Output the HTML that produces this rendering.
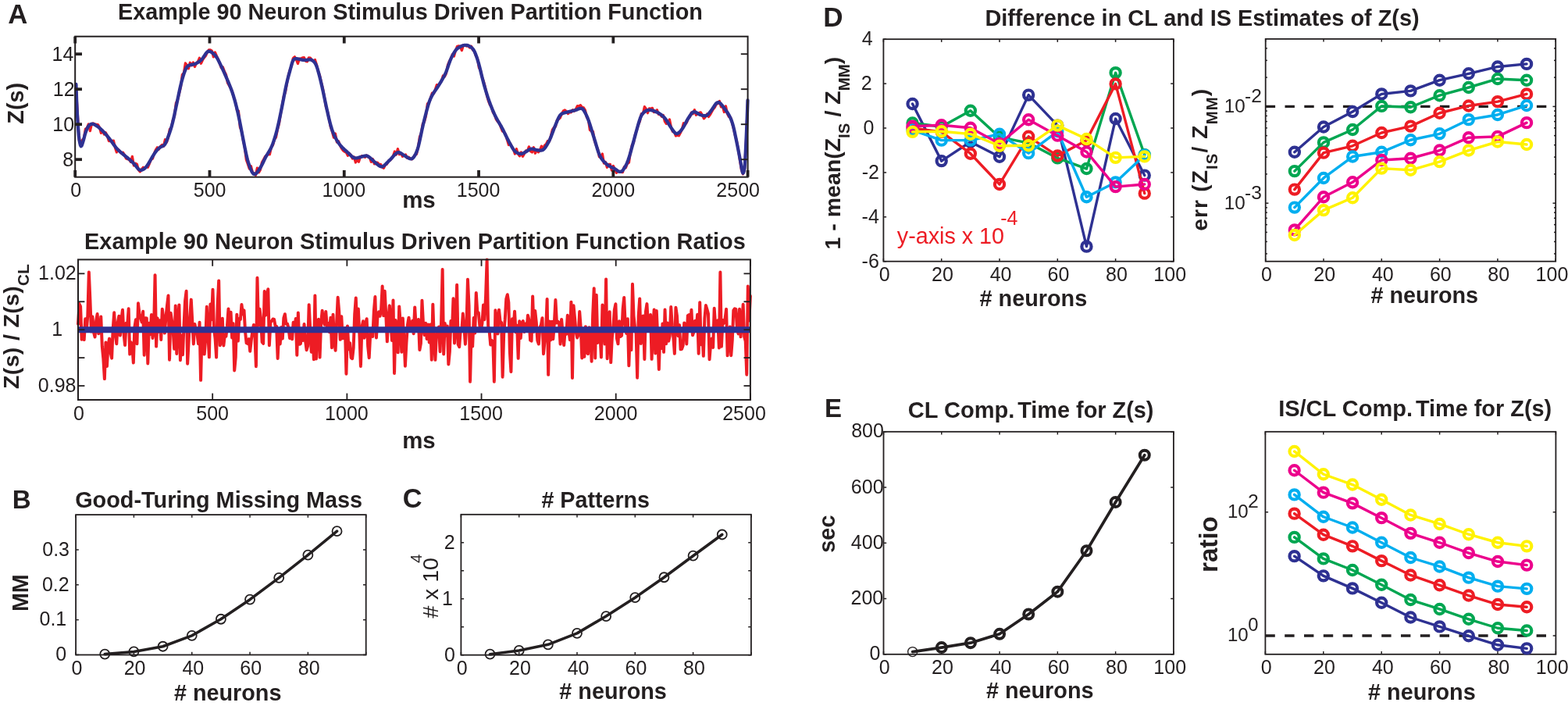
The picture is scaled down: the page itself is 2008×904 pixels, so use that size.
<!DOCTYPE html>
<html><head><meta charset="utf-8"><title>Partition function figure</title>
<style>
html,body{margin:0;padding:0;background:#fff;}
svg{display:block;}
text{font-family:"Liberation Sans",Arial,Helvetica,sans-serif;}
</style></head><body>
<svg width="2008" height="904" viewBox="0 0 2008 904">
<rect x="0" y="0" width="2008" height="904" fill="#fff"/>
<polyline points="97.4,113.1 99.4,147.6 101.4,179.42 103.4,186.05 105.4,179.39 107.4,177.21 109.4,165.16 111.4,163.98 113.4,158.94 115.4,167.64 117.4,158.98 119.4,157.82 121.4,158.95 123.4,159.27 125.4,159.62 127.4,162.8 129.4,170.33 131.4,166.97 133.4,172.05 135.4,169.86 137.4,174.23 139.4,180.53 141.4,180.59 143.4,180.62 145.4,180.14 147.4,188.92 149.4,194.91 151.4,191.45 153.4,193.34 155.4,196.33 157.4,195.12 159.4,198.26 161.4,202.87 163.4,203.64 165.4,204.1 167.4,207.33 169.4,200.42 171.4,211.96 173.4,209.25 175.4,210.27 177.4,217.6 179.4,219.84 181.4,216.68 183.4,214.23 185.4,215.79 187.4,213.41 189.4,214.2 191.4,209.33 193.4,204.26 195.4,203.14 197.4,196.64 199.4,191.89 201.4,188.82 203.4,191.19 205.4,187.73 207.4,185.53 209.4,187.31 211.4,178.79 213.4,182.11 215.4,176.19 217.4,165.39 219.4,163.46 221.4,153.59 223.4,148.82 225.4,131.97 227.4,128.06 229.4,119.91 231.4,111.72 233.4,95.59 235.4,93.5 237.4,80.9 239.4,83.58 241.4,87.77 243.4,80.26 245.4,83.77 247.4,79.91 249.4,85.48 251.4,81.04 253.4,79.03 255.4,74.32 257.4,81.28 259.4,76.95 261.4,73.85 263.4,71.5 265.4,67.02 267.4,63.82 269.4,63.96 271.4,65.14 273.4,72.78 275.4,66.96 277.4,71.58 279.4,75.91 281.4,81.37 283.4,86.82 285.4,85.97 287.4,91.38 289.4,95.39 291.4,105.81 293.4,109.33 295.4,112.92 297.4,117.04 299.4,124.77 301.4,130.29 303.4,141.03 305.4,141.95 307.4,162.79 309.4,167.8 311.4,179.53 313.4,188.97 315.4,204.81 317.4,210.31 319.4,216.13 321.4,212.64 323.4,220.95 325.4,222.06 327.4,224.21 329.4,215.06 331.4,220.79 333.4,217.47 335.4,207.99 337.4,204.49 339.4,200.66 341.4,199.16 343.4,197.49 345.4,197.77 347.4,188.36 349.4,185.95 351.4,178.58 353.4,175.92 355.4,165.85 357.4,158.4 359.4,145.6 361.4,134.87 363.4,122.97 365.4,118.29 367.4,106.69 369.4,96.53 371.4,89.23 373.4,84.11 375.4,74.41 377.4,72.79 379.4,76.25 381.4,81.5 383.4,75.19 385.4,74.93 387.4,73.82 389.4,73.65 391.4,78.26 393.4,78.86 395.4,73.89 397.4,74.13 399.4,77.02 401.4,78.57 403.4,76.54 405.4,82.75 407.4,91.03 409.4,96.33 411.4,105.28 413.4,113.33 415.4,124.21 417.4,136.78 419.4,142.55 421.4,152.08 423.4,162.64 425.4,168.52 427.4,176.1 429.4,170.93 431.4,181.98 433.4,180.68 435.4,185.94 437.4,189.99 439.4,192.63 441.4,194.36 443.4,195.31 445.4,199.28 447.4,196.52 449.4,198.91 451.4,203.05 453.4,200.88 455.4,207.99 457.4,204.84 459.4,207.17 461.4,201.08 463.4,199.67 465.4,200.44 467.4,201.35 469.4,198.99 471.4,200.97 473.4,201.59 475.4,207.36 477.4,203.59 479.4,209.86 481.4,208.24 483.4,208.19 485.4,210.38 487.4,210.31 489.4,214.06 491.4,215.27 493.4,211.06 495.4,210.2 497.4,206.14 499.4,205.34 501.4,203.18 503.4,199.71 505.4,194.06 507.4,198.06 509.4,190.64 511.4,197.78 513.4,196.03 515.4,200.35 517.4,198.78 519.4,198.06 521.4,202.32 523.4,201.24 525.4,203.03 527.4,203.73 529.4,201.69 531.4,198.46 533.4,197.4 535.4,188.92 537.4,175.48 539.4,170.58 541.4,158.45 543.4,156.2 545.4,148.62 547.4,132.93 549.4,131.44 551.4,125.54 553.4,119.31 555.4,120 557.4,114.64 559.4,108.61 561.4,109.4 563.4,106.4 565.4,103.76 567.4,97.02 569.4,97.91 571.4,93.9 573.4,83.47 575.4,78.54 577.4,74.96 579.4,69.65 581.4,71.93 583.4,64.88 585.4,59.64 587.4,58.91 589.4,59.6 591.4,64.55 593.4,57.69 595.4,58.08 597.4,59.04 599.4,58.16 601.4,60.91 603.4,59.19 605.4,63.96 607.4,65.48 609.4,71.54 611.4,74.4 613.4,86.76 615.4,90.24 617.4,99.2 619.4,104.4 621.4,111.99 623.4,121.92 625.4,129.05 627.4,134.04 629.4,136.98 631.4,144.02 633.4,146.79 635.4,152.86 637.4,155.83 639.4,157.43 641.4,162.85 643.4,167.87 645.4,169.23 647.4,171.92 649.4,178.72 651.4,185.48 653.4,183.76 655.4,187.74 657.4,191 659.4,196.95 661.4,190.67 663.4,197.12 665.4,199.85 667.4,195.07 669.4,200.33 671.4,196.86 673.4,192.95 675.4,193.66 677.4,187.88 679.4,193.59 681.4,195.02 683.4,188.72 685.4,196.23 687.4,191.85 689.4,194.83 691.4,192.68 693.4,187.09 695.4,190.77 697.4,186.17 699.4,184.39 701.4,180.47 703.4,181.25 705.4,174.18 707.4,166.22 709.4,163.25 711.4,162.1 713.4,153.98 715.4,152.69 717.4,150.71 719.4,145.68 721.4,141.99 723.4,140.99 725.4,142.46 727.4,145.56 729.4,143.55 731.4,143.74 733.4,140.79 735.4,142.17 737.4,139.7 739.4,135.68 741.4,136.05 743.4,134.72 745.4,137.43 747.4,137.91 749.4,141.03 751.4,150.08 753.4,152.88 755.4,166.39 757.4,167.98 759.4,168.29 761.4,180.43 763.4,186.26 765.4,190.47 767.4,200.77 769.4,200.02 771.4,197.05 773.4,209 775.4,207.42 777.4,214.34 779.4,210.45 781.4,210.36 783.4,218.18 785.4,212.53 787.4,216.73 789.4,221.24 791.4,219.35 793.4,219.9 795.4,220.39 797.4,220.6 799.4,213.59 801.4,214.65 803.4,209.5 805.4,208.22 807.4,194.65 809.4,185.8 811.4,182.74 813.4,172.45 815.4,166.75 817.4,159.5 819.4,155.21 821.4,145.56 823.4,145.79 825.4,136.72 827.4,139.52 829.4,144.76 831.4,139 833.4,139.17 835.4,138.36 837.4,143.53 839.4,143.32 841.4,140.77 843.4,146.35 845.4,146.57 847.4,149.31 849.4,147.56 851.4,155.48 853.4,158.46 855.4,156.8 857.4,152.88 859.4,162.89 861.4,168.51 863.4,168.64 865.4,174 867.4,172.85 869.4,173.85 871.4,169.97 873.4,165.47 875.4,157.79 877.4,159.5 879.4,156.78 881.4,151.74 883.4,149.74 885.4,144.15 887.4,145.73 889.4,140.65 891.4,147.27 893.4,145.58 895.4,144.37 897.4,143.99 899.4,147.41 901.4,151.79 903.4,149.54 905.4,146.08 907.4,149.46 909.4,146.83 911.4,143.27 913.4,139.72 915.4,137.36 917.4,133.2 919.4,132.64 921.4,129.41 923.4,136.92 925.4,136.25 927.4,143.47 929.4,135.92 931.4,145.57 933.4,149.46 935.4,149.98 937.4,156.66 939.4,164.51 941.4,173.42 943.4,180.54 945.4,191.32 947.4,204.5 949.4,216.93 951.4,222.82 953.4,218.19 955.4,182.61 957.4,134.06" fill="none" stroke="#ed1c24" stroke-width="3.3" stroke-linejoin="round" stroke-linecap="round"/>
<polyline points="97.4,108 98.1,127.91 98.8,143.26 99.5,155.58 100.2,165.48 100.9,174.02 101.6,179.51 102.3,183.13 103,185.91 103.7,187.24 104.4,186.85 105.1,185.28 105.8,183.11 106.5,180.81 107.2,178.35 107.9,175.69 108.6,173.07 109.3,170.65 110,168.53 110.7,166.65 111.4,165.01 112.1,163.58 112.8,162.38 113.5,161.39 114.2,160.59 114.9,159.94 115.6,159.43 116.3,159.05 117,158.8 117.7,158.67 118.4,158.68 119.1,158.79 119.8,159 120.5,159.28 121.2,159.63 121.9,160.02 122.6,160.44 123.3,160.89 124,161.35 124.7,161.82 125.4,162.31 126.1,162.82 126.8,163.36 127.5,163.93 128.2,164.53 128.9,165.16 129.6,165.81 130.3,166.49 131,167.19 131.7,167.9 132.4,168.62 133.1,169.35 133.8,170.1 134.5,170.86 135.2,171.63 135.9,172.43 136.6,173.25 137.3,174.08 138,174.93 138.7,175.8 139.4,176.68 140.1,177.57 140.8,178.47 141.5,179.38 142.2,180.3 142.9,181.25 143.6,182.21 144.3,183.18 145,184.17 145.7,185.16 146.4,186.13 147.1,187.09 147.8,188.01 148.5,188.89 149.2,189.73 149.9,190.52 150.6,191.26 151.3,191.97 152,192.64 152.7,193.29 153.4,193.92 154.1,194.53 154.8,195.13 155.5,195.73 156.2,196.32 156.9,196.91 157.6,197.49 158.3,198.07 159,198.65 159.7,199.22 160.4,199.78 161.1,200.34 161.8,200.9 162.5,201.47 163.2,202.04 163.9,202.62 164.6,203.21 165.3,203.81 166,204.42 166.7,205.04 167.4,205.67 168.1,206.3 168.8,206.95 169.5,207.61 170.2,208.28 170.9,208.97 171.6,209.69 172.3,210.46 173,211.28 173.7,212.15 174.4,213.06 175.1,213.97 175.8,214.86 176.5,215.69 177.2,216.42 177.9,217.01 178.6,217.44 179.3,217.7 180,217.81 180.7,217.78 181.4,217.64 182.1,217.42 182.8,217.12 183.5,216.77 184.2,216.36 184.9,215.88 185.6,215.31 186.3,214.64 187,213.86 187.7,213 188.4,212.05 189.1,211.05 189.8,209.99 190.5,208.87 191.2,207.7 191.9,206.49 192.6,205.25 193.3,204.01 194,202.78 194.7,201.58 195.4,200.41 196.1,199.26 196.8,198.15 197.5,197.07 198.2,196.02 198.9,195.02 199.6,194.07 200.3,193.17 201,192.34 201.7,191.55 202.4,190.82 203.1,190.15 203.8,189.54 204.5,189.01 205.2,188.55 205.9,188.16 206.6,187.83 207.3,187.53 208,187.24 208.7,186.91 209.4,186.5 210.1,185.94 210.8,185.18 211.5,184.17 212.2,182.89 212.9,181.37 213.6,179.68 214.3,177.87 215,176.01 215.7,174.11 216.4,172.18 217.1,170.19 217.8,168.13 218.5,165.98 219.2,163.71 219.9,161.3 220.6,158.73 221.3,155.99 222,153.06 222.7,149.97 223.4,146.74 224.1,143.41 224.8,140.03 225.5,136.65 226.2,133.29 226.9,129.95 227.6,126.65 228.3,123.35 229,120.06 229.7,116.79 230.4,113.58 231.1,110.47 231.8,107.5 232.5,104.7 233.2,102.1 233.9,99.66 234.6,97.37 235.3,95.2 236,93.15 236.7,91.23 237.4,89.47 238.1,87.92 238.8,86.63 239.5,85.6 240.2,84.82 240.9,84.27 241.6,83.88 242.3,83.6 243,83.39 243.7,83.22 244.4,83.08 245.1,82.94 245.8,82.81 246.5,82.67 247.2,82.52 247.9,82.35 248.6,82.16 249.3,81.93 250,81.66 250.7,81.36 251.4,81.03 252.1,80.67 252.8,80.27 253.5,79.85 254.2,79.4 254.9,78.92 255.6,78.42 256.3,77.89 257,77.32 257.7,76.69 258.4,75.99 259.1,75.19 259.8,74.29 260.5,73.29 261.2,72.23 261.9,71.13 262.6,70.04 263.3,69 264,68.04 264.7,67.22 265.4,66.57 266.1,66.1 266.8,65.82 267.5,65.72 268.2,65.77 268.9,65.94 269.6,66.21 270.3,66.56 271,66.98 271.7,67.46 272.4,67.99 273.1,68.56 273.8,69.18 274.5,69.83 275.2,70.54 275.9,71.32 276.6,72.2 277.3,73.19 278,74.3 278.7,75.52 279.4,76.83 280.1,78.19 280.8,79.58 281.5,80.99 282.2,82.41 282.9,83.84 283.6,85.3 284.3,86.77 285,88.28 285.7,89.81 286.4,91.36 287.1,92.93 287.8,94.52 288.5,96.12 289.2,97.73 289.9,99.34 290.6,100.95 291.3,102.56 292,104.19 292.7,105.83 293.4,107.5 294.1,109.21 294.8,110.96 295.5,112.77 296.2,114.64 296.9,116.58 297.6,118.6 298.3,120.72 299,122.94 299.7,125.26 300.4,127.68 301.1,130.21 301.8,132.83 302.5,135.54 303.2,138.35 303.9,141.26 304.6,144.28 305.3,147.44 306,150.73 306.7,154.14 307.4,157.67 308.1,161.26 308.8,164.88 309.5,168.5 310.2,172.1 310.9,175.67 311.6,179.23 312.3,182.78 313,186.33 313.7,189.85 314.4,193.3 315.1,196.62 315.8,199.75 316.5,202.64 317.2,205.29 317.9,207.69 318.6,209.9 319.3,211.96 320,213.9 320.7,215.72 321.4,217.42 322.1,218.96 322.8,220.29 323.5,221.39 324.2,222.22 324.9,222.77 325.6,223.02 326.3,223.01 327,222.76 327.7,222.3 328.4,221.68 329.1,220.92 329.8,220.05 330.5,219.11 331.2,218.1 331.9,217.05 332.6,215.97 333.3,214.84 334,213.66 334.7,212.41 335.4,211.08 336.1,209.67 336.8,208.22 337.5,206.73 338.2,205.26 338.9,203.82 339.6,202.43 340.3,201.11 341,199.85 341.7,198.65 342.4,197.49 343.1,196.36 343.8,195.22 344.5,194.07 345.2,192.87 345.9,191.61 346.6,190.26 347.3,188.82 348,187.26 348.7,185.59 349.4,183.79 350.1,181.86 350.8,179.82 351.5,177.68 352.2,175.42 352.9,173.07 353.6,170.6 354.3,168 355,165.27 355.7,162.38 356.4,159.35 357.1,156.17 357.8,152.89 358.5,149.53 359.2,146.12 359.9,142.68 360.6,139.21 361.3,135.72 362,132.18 362.7,128.59 363.4,124.98 364.1,121.36 364.8,117.78 365.5,114.28 366.2,110.89 366.9,107.66 367.6,104.61 368.3,101.72 369,98.99 369.7,96.38 370.4,93.85 371.1,91.33 371.8,88.78 372.5,86.19 373.2,83.62 373.9,81.2 374.6,79.13 375.3,77.54 376,76.46 376.7,75.79 377.4,75.41 378.1,75.21 378.8,75.14 379.5,75.15 380.2,75.21 380.9,75.3 381.6,75.43 382.3,75.57 383,75.73 383.7,75.89 384.4,76.06 385.1,76.23 385.8,76.39 386.5,76.54 387.2,76.67 387.9,76.78 388.6,76.86 389.3,76.91 390,76.94 390.7,76.93 391.4,76.9 392.1,76.85 392.8,76.78 393.5,76.71 394.2,76.63 394.9,76.55 395.6,76.48 396.3,76.43 397,76.42 397.7,76.48 398.4,76.61 399.1,76.85 399.8,77.2 400.5,77.65 401.2,78.21 401.9,78.87 402.6,79.64 403.3,80.57 404,81.69 404.7,83.05 405.4,84.7 406.1,86.65 406.8,88.86 407.5,91.28 408.2,93.84 408.9,96.5 409.6,99.24 410.3,102.05 411,104.95 411.7,107.93 412.4,111.01 413.1,114.17 413.8,117.42 414.5,120.73 415.2,124.07 415.9,127.42 416.6,130.75 417.3,134.03 418,137.25 418.7,140.42 419.4,143.56 420.1,146.65 420.8,149.71 421.5,152.7 422.2,155.58 422.9,158.32 423.6,160.89 424.3,163.26 425,165.43 425.7,167.42 426.4,169.26 427.1,170.98 427.8,172.61 428.5,174.15 429.2,175.6 429.9,176.99 430.6,178.29 431.3,179.53 432,180.7 432.7,181.8 433.4,182.85 434.1,183.83 434.8,184.76 435.5,185.64 436.2,186.48 436.9,187.28 437.6,188.04 438.3,188.78 439,189.48 439.7,190.16 440.4,190.82 441.1,191.47 441.8,192.1 442.5,192.72 443.2,193.34 443.9,193.96 444.6,194.58 445.3,195.22 446,195.88 446.7,196.55 447.4,197.24 448.1,197.94 448.8,198.63 449.5,199.3 450.2,199.93 450.9,200.52 451.6,201.05 452.3,201.51 453,201.88 453.7,202.16 454.4,202.34 455.1,202.43 455.8,202.43 456.5,202.37 457.2,202.26 457.9,202.12 458.6,201.94 459.3,201.75 460,201.56 460.7,201.36 461.4,201.17 462.1,200.97 462.8,200.78 463.5,200.58 464.2,200.39 464.9,200.19 465.6,200 466.3,199.82 467,199.67 467.7,199.55 468.4,199.49 469.1,199.49 469.8,199.59 470.5,199.8 471.2,200.12 471.9,200.54 472.6,201.03 473.3,201.58 474,202.16 474.7,202.77 475.4,203.39 476.1,204.03 476.8,204.69 477.5,205.36 478.2,206.04 478.9,206.7 479.6,207.35 480.3,207.97 481,208.57 481.7,209.16 482.4,209.74 483.1,210.32 483.8,210.88 484.5,211.41 485.2,211.91 485.9,212.37 486.6,212.75 487.3,213.07 488,213.28 488.7,213.39 489.4,213.36 490.1,213.18 490.8,212.84 491.5,212.37 492.2,211.79 492.9,211.14 493.6,210.44 494.3,209.74 495,209.04 495.7,208.35 496.4,207.66 497.1,206.97 497.8,206.27 498.5,205.57 499.2,204.87 499.9,204.17 500.6,203.46 501.3,202.72 502,201.97 502.7,201.19 503.4,200.39 504.1,199.6 504.8,198.82 505.5,198.08 506.2,197.38 506.9,196.75 507.6,196.21 508.3,195.77 509,195.44 509.7,195.25 510.4,195.18 511.1,195.24 511.8,195.42 512.5,195.7 513.2,196.07 513.9,196.49 514.6,196.96 515.3,197.45 516,197.94 516.7,198.43 517.4,198.89 518.1,199.34 518.8,199.77 519.5,200.21 520.2,200.65 520.9,201.09 521.6,201.53 522.3,201.95 523,202.34 523.7,202.69 524.4,202.99 525.1,203.23 525.8,203.37 526.5,203.39 527.2,203.27 527.9,202.97 528.6,202.47 529.3,201.78 530,200.91 530.7,199.89 531.4,198.73 532.1,197.44 532.8,196.02 533.5,194.41 534.2,192.56 534.9,190.43 535.6,188 536.3,185.28 537,182.3 537.7,179.13 538.4,175.84 539.1,172.49 539.8,169.14 540.5,165.86 541.2,162.68 541.9,159.62 542.6,156.68 543.3,153.83 544,151.03 544.7,148.26 545.4,145.52 546.1,142.83 546.8,140.2 547.5,137.67 548.2,135.25 548.9,132.97 549.6,130.84 550.3,128.89 551,127.11 551.7,125.49 552.4,124.01 553.1,122.65 553.8,121.39 554.5,120.2 555.2,119.08 555.9,118 556.6,116.97 557.3,115.96 558,114.97 558.7,113.98 559.4,112.98 560.1,111.96 560.8,110.91 561.5,109.83 562.2,108.72 562.9,107.59 563.6,106.44 564.3,105.29 565,104.13 565.7,102.96 566.4,101.77 567.1,100.55 567.8,99.29 568.5,97.99 569.2,96.62 569.9,95.18 570.6,93.63 571.3,91.97 572,90.17 572.7,88.25 573.4,86.24 574.1,84.18 574.8,82.14 575.5,80.17 576.2,78.3 576.9,76.55 577.6,74.93 578.3,73.41 579,72 579.7,70.66 580.4,69.38 581.1,68.16 581.8,66.99 582.5,65.89 583.2,64.87 583.9,63.96 584.6,63.16 585.3,62.48 586,61.9 586.7,61.39 587.4,60.93 588.1,60.51 588.8,60.12 589.5,59.75 590.2,59.4 590.9,59.08 591.6,58.8 592.3,58.54 593,58.32 593.7,58.13 594.4,57.99 595.1,57.88 595.8,57.82 596.5,57.81 597.2,57.86 597.9,57.96 598.6,58.12 599.3,58.33 600,58.6 600.7,58.93 601.4,59.3 602.1,59.71 602.8,60.17 603.5,60.68 604.2,61.24 604.9,61.9 605.6,62.68 606.3,63.63 607,64.78 607.7,66.14 608.4,67.7 609.1,69.43 609.8,71.3 610.5,73.28 611.2,75.37 611.9,77.56 612.6,79.88 613.3,82.36 614,85 614.7,87.77 615.4,90.63 616.1,93.55 616.8,96.45 617.5,99.3 618.2,102.07 618.9,104.75 619.6,107.34 620.3,109.87 621,112.33 621.7,114.75 622.4,117.1 623.1,119.4 623.8,121.63 624.5,123.79 625.2,125.88 625.9,127.9 626.6,129.88 627.3,131.8 628,133.67 628.7,135.5 629.4,137.29 630.1,139.03 630.8,140.73 631.5,142.38 632.2,143.98 632.9,145.54 633.6,147.04 634.3,148.49 635,149.88 635.7,151.22 636.4,152.51 637.1,153.76 637.8,154.98 638.5,156.17 639.2,157.35 639.9,158.53 640.6,159.72 641.3,160.93 642,162.16 642.7,163.43 643.4,164.75 644.1,166.09 644.8,167.48 645.5,168.89 646.2,170.33 646.9,171.77 647.6,173.21 648.3,174.64 649,176.05 649.7,177.44 650.4,178.79 651.1,180.1 651.8,181.4 652.5,182.67 653.2,183.94 653.9,185.21 654.6,186.48 655.3,187.72 656,188.92 656.7,190.07 657.4,191.14 658.1,192.11 658.8,192.97 659.5,193.71 660.2,194.33 660.9,194.85 661.6,195.28 662.3,195.65 663,195.97 663.7,196.25 664.4,196.49 665.1,196.69 665.8,196.83 666.5,196.92 667.2,196.93 667.9,196.87 668.6,196.72 669.3,196.5 670,196.21 670.7,195.87 671.4,195.49 672.1,195.09 672.8,194.68 673.5,194.27 674.2,193.85 674.9,193.41 675.6,192.96 676.3,192.5 677,192.05 677.7,191.62 678.4,191.25 679.1,190.94 679.8,190.73 680.5,190.62 681.2,190.6 681.9,190.67 682.6,190.79 683.3,190.97 684,191.16 684.7,191.37 685.4,191.57 686.1,191.75 686.8,191.91 687.5,192.04 688.2,192.16 688.9,192.26 689.6,192.35 690.3,192.44 691,192.51 691.7,192.56 692.4,192.59 693.1,192.58 693.8,192.49 694.5,192.3 695.2,191.97 695.9,191.5 696.6,190.87 697.3,190.11 698,189.22 698.7,188.22 699.4,187.15 700.1,186.02 700.8,184.84 701.5,183.63 702.2,182.38 702.9,181.07 703.6,179.67 704.3,178.18 705,176.57 705.7,174.87 706.4,173.08 707.1,171.23 707.8,169.35 708.5,167.46 709.2,165.6 709.9,163.77 710.6,161.99 711.3,160.26 712,158.55 712.7,156.86 713.4,155.18 714.1,153.53 714.8,151.94 715.5,150.48 716.2,149.17 716.9,148.07 717.6,147.18 718.3,146.49 719,145.97 719.7,145.57 720.4,145.25 721.1,144.97 721.8,144.73 722.5,144.52 723.2,144.32 723.9,144.14 724.6,143.97 725.3,143.81 726,143.66 726.7,143.5 727.4,143.35 728.1,143.18 728.8,143.02 729.5,142.84 730.2,142.67 730.9,142.5 731.6,142.33 732.3,142.16 733,141.99 733.7,141.83 734.4,141.66 735.1,141.48 735.8,141.3 736.5,141.1 737.2,140.89 737.9,140.66 738.6,140.41 739.3,140.14 740,139.86 740.7,139.59 741.4,139.33 742.1,139.1 742.8,138.92 743.5,138.8 744.2,138.79 744.9,138.93 745.6,139.25 746.3,139.78 747,140.54 747.7,141.5 748.4,142.62 749.1,143.87 749.8,145.22 750.5,146.64 751.2,148.13 751.9,149.69 752.6,151.36 753.3,153.16 754,155.08 754.7,157.12 755.4,159.25 756.1,161.46 756.8,163.71 757.5,165.99 758.2,168.27 758.9,170.54 759.6,172.79 760.3,175.04 761,177.31 761.7,179.61 762.4,181.96 763.1,184.33 763.8,186.7 764.5,189.04 765.2,191.31 765.9,193.48 766.6,195.49 767.3,197.33 768,198.97 768.7,200.41 769.4,201.67 770.1,202.79 770.8,203.79 771.5,204.71 772.2,205.57 772.9,206.38 773.6,207.14 774.3,207.85 775,208.53 775.7,209.17 776.4,209.77 777.1,210.34 777.8,210.88 778.5,211.4 779.2,211.89 779.9,212.35 780.6,212.79 781.3,213.2 782,213.58 782.7,213.94 783.4,214.29 784.1,214.62 784.8,214.95 785.5,215.29 786.2,215.65 786.9,216.02 787.6,216.44 788.3,216.88 789,217.35 789.7,217.84 790.4,218.32 791.1,218.78 791.8,219.19 792.5,219.54 793.2,219.8 793.9,219.94 794.6,219.94 795.3,219.77 796,219.42 796.7,218.9 797.4,218.2 798.1,217.35 798.8,216.37 799.5,215.28 800.2,214.11 800.9,212.87 801.6,211.56 802.3,210.15 803,208.61 803.7,206.92 804.4,205.05 805.1,203.01 805.8,200.82 806.5,198.5 807.2,196.07 807.9,193.58 808.6,191.04 809.3,188.49 810,185.94 810.7,183.39 811.4,180.83 812.1,178.27 812.8,175.68 813.5,173.09 814.2,170.51 814.9,167.97 815.6,165.46 816.3,163 817,160.57 817.7,158.17 818.4,155.84 819.1,153.62 819.8,151.58 820.5,149.78 821.2,148.25 821.9,147 822.6,145.98 823.3,145.14 824,144.42 824.7,143.78 825.4,143.21 826.1,142.69 826.8,142.23 827.5,141.82 828.2,141.49 828.9,141.22 829.6,141.02 830.3,140.89 831,140.82 831.7,140.81 832.4,140.86 833.1,140.94 833.8,141.06 834.5,141.22 835.2,141.4 835.9,141.6 836.6,141.83 837.3,142.07 838,142.33 838.7,142.61 839.4,142.89 840.1,143.19 840.8,143.49 841.5,143.8 842.2,144.13 842.9,144.49 843.6,144.86 844.3,145.27 845,145.72 845.7,146.19 846.4,146.7 847.1,147.24 847.8,147.81 848.5,148.41 849.2,149.04 849.9,149.7 850.6,150.42 851.3,151.19 852,152.04 852.7,152.96 853.4,153.96 854.1,155.03 854.8,156.14 855.5,157.28 856.2,158.43 856.9,159.58 857.6,160.71 858.3,161.8 859,162.86 859.7,163.89 860.4,164.91 861.1,165.93 861.8,166.94 862.5,167.92 863.2,168.84 863.9,169.64 864.6,170.31 865.3,170.8 866,171.08 866.7,171.17 867.4,171.05 868.1,170.76 868.8,170.33 869.5,169.77 870.2,169.13 870.9,168.41 871.6,167.65 872.3,166.83 873,165.96 873.7,165.03 874.4,164 875.1,162.89 875.8,161.69 876.5,160.42 877.2,159.1 877.9,157.76 878.6,156.42 879.3,155.1 880,153.83 880.7,152.62 881.4,151.46 882.1,150.35 882.8,149.27 883.5,148.21 884.2,147.18 884.9,146.21 885.6,145.32 886.3,144.56 887,143.95 887.7,143.53 888.4,143.3 889.1,143.25 889.8,143.35 890.5,143.57 891.2,143.88 891.9,144.25 892.6,144.67 893.3,145.12 894,145.56 894.7,145.99 895.4,146.38 896.1,146.73 896.8,147.02 897.5,147.27 898.2,147.48 898.9,147.66 899.6,147.81 900.3,147.95 901,148.07 901.7,148.17 902.4,148.23 903.1,148.24 903.8,148.17 904.5,147.99 905.2,147.66 905.9,147.19 906.6,146.58 907.3,145.85 908,145.04 908.7,144.18 909.4,143.29 910.1,142.4 910.8,141.48 911.5,140.52 912.2,139.52 912.9,138.47 913.6,137.39 914.3,136.29 915,135.22 915.7,134.2 916.4,133.29 917.1,132.49 917.8,131.86 918.5,131.42 919.2,131.17 919.9,131.12 920.6,131.27 921.3,131.58 922,132.05 922.7,132.64 923.4,133.34 924.1,134.12 924.8,134.97 925.5,135.86 926.2,136.78 926.9,137.72 927.6,138.65 928.3,139.59 929,140.53 929.7,141.48 930.4,142.45 931.1,143.46 931.8,144.51 932.5,145.63 933.2,146.81 933.9,148.06 934.6,149.4 935.3,150.85 936,152.42 936.7,154.16 937.4,156.12 938.1,158.33 938.8,160.82 939.5,163.58 940.2,166.58 940.9,169.77 941.6,173.08 942.3,176.47 943,179.89 943.7,183.33 944.4,186.78 945.1,190.26 945.8,193.8 946.5,197.4 947.2,201.05 947.9,204.73 948.6,208.6 949.3,212.79 950,216.84 950.7,220.08 951.4,221.73 952.1,221.15 952.8,218.65 953.5,215 954.2,206.61 954.9,192.9 955.6,177.89 956.3,161.61 957,143 957.5,128.5" fill="none" stroke="#2e3192" stroke-width="4.3" stroke-linejoin="round" stroke-linecap="round"/>
<line x1="96.2" y1="226.7" x2="96.2" y2="217.9" stroke="#231f20" stroke-width="3.8"/>
<line x1="96.2" y1="46.7" x2="96.2" y2="55.5" stroke="#231f20" stroke-width="3.8"/>
<line x1="268.48" y1="226.7" x2="268.48" y2="217.9" stroke="#231f20" stroke-width="3.8"/>
<line x1="268.48" y1="46.7" x2="268.48" y2="55.5" stroke="#231f20" stroke-width="3.8"/>
<line x1="440.76" y1="226.7" x2="440.76" y2="217.9" stroke="#231f20" stroke-width="3.8"/>
<line x1="440.76" y1="46.7" x2="440.76" y2="55.5" stroke="#231f20" stroke-width="3.8"/>
<line x1="613.04" y1="226.7" x2="613.04" y2="217.9" stroke="#231f20" stroke-width="3.8"/>
<line x1="613.04" y1="46.7" x2="613.04" y2="55.5" stroke="#231f20" stroke-width="3.8"/>
<line x1="785.32" y1="226.7" x2="785.32" y2="217.9" stroke="#231f20" stroke-width="3.8"/>
<line x1="785.32" y1="46.7" x2="785.32" y2="55.5" stroke="#231f20" stroke-width="3.8"/>
<line x1="957.6" y1="226.7" x2="957.6" y2="217.9" stroke="#231f20" stroke-width="3.8"/>
<line x1="96.2" y1="204.2" x2="105" y2="204.2" stroke="#231f20" stroke-width="3.8"/>
<line x1="957.6" y1="204.2" x2="948.8" y2="204.2" stroke="#231f20" stroke-width="1.9"/>
<line x1="96.2" y1="159.2" x2="105" y2="159.2" stroke="#231f20" stroke-width="3.8"/>
<line x1="957.6" y1="159.2" x2="948.8" y2="159.2" stroke="#231f20" stroke-width="1.9"/>
<line x1="96.2" y1="114.2" x2="105" y2="114.2" stroke="#231f20" stroke-width="3.8"/>
<line x1="957.6" y1="114.2" x2="948.8" y2="114.2" stroke="#231f20" stroke-width="1.9"/>
<line x1="96.2" y1="69.2" x2="105" y2="69.2" stroke="#231f20" stroke-width="3.8"/>
<line x1="957.6" y1="69.2" x2="948.8" y2="69.2" stroke="#231f20" stroke-width="1.9"/>
<rect x="96.2" y="46.7" width="861.4" height="180" fill="none" stroke="#231f20" stroke-width="2"/>
<polyline points="100,415.02 101.54,388.99 103.08,392.29 104.62,434.66 106.16,429.48 107.7,435.08 109.24,408.28 110.78,423.57 112.32,403.96 113.86,348.56 115.4,383.94 116.94,424.56 118.48,405.58 120.02,425.54 121.56,431.46 123.1,410.89 124.64,402.06 126.18,427.15 127.72,425.93 129.26,405.45 130.8,443.46 132.34,459.19 133.88,485.06 135.42,438.58 136.96,469.11 138.5,442.08 140.04,433.62 141.58,451.34 143.12,458.65 144.66,421.31 146.2,400.28 147.74,427.89 149.28,440.36 150.82,412.8 152.36,404.68 153.9,429.53 155.44,408.9 156.98,396.73 158.52,427.26 160.06,442.07 161.6,413.71 163.14,416.15 164.68,395.36 166.22,453.58 167.76,438.36 169.3,442.67 170.84,464.55 172.38,419.11 173.92,409.31 175.46,440.25 177,388.35 178.54,402.12 180.08,406.88 181.62,412.39 183.16,398.86 184.7,454.73 186.24,407.2 187.78,407.48 189.32,465.38 190.86,413.72 192.4,428.32 193.94,403.11 195.48,432.92 197.02,422.65 198.56,352.16 200.1,443.6 201.64,407.58 203.18,424.76 204.72,410.17 206.26,434.95 207.81,395.67 209.35,407.42 210.89,426.55 212.43,406.76 213.97,391.43 215.51,378.45 217.05,460.64 218.59,400.63 220.13,410.84 221.67,424.49 223.21,446.79 224.75,391.49 226.29,453.02 227.83,408.35 229.37,390.4 230.91,461.27 232.45,429.59 233.99,454.18 235.53,416.24 237.07,385.21 238.61,372.77 240.15,465.63 241.69,436.24 243.23,405.02 244.77,383.62 246.31,411.91 247.85,440.43 249.39,414.94 250.93,422.61 252.47,427.18 254.01,440.14 255.55,412.74 257.09,486.86 258.63,424.47 260.17,427.61 261.71,453.58 263.25,434.08 264.79,392.73 266.33,426.85 267.87,457.37 269.41,389.61 270.95,409.25 272.49,370.71 274.03,420.67 275.57,433.47 277.11,457.56 278.65,389.86 280.19,359.44 281.73,442.25 283.27,438.01 284.81,407.64 286.35,442.48 287.89,428.81 289.43,430.74 290.97,417.51 292.51,395.46 294.05,421.66 295.59,399.76 297.13,432.46 298.67,414.19 300.21,474.43 301.75,457.62 303.29,402.76 304.83,436.61 306.37,408.04 307.91,408.95 309.45,389.9 310.99,402.37 312.53,397.36 314.07,424.93 315.61,439.26 317.15,440.07 318.69,434.12 320.23,449.8 321.77,435.57 323.31,424.46 324.85,416.05 326.39,430.48 327.93,469.19 329.47,355.75 331.01,416.7 332.55,395.71 334.09,408.09 335.63,437.92 337.17,439.88 338.71,373.09 340.25,403.72 341.79,377.47 343.33,370.19 344.87,442.18 346.41,412.79 347.95,411.01 349.49,408.53 351.03,408.96 352.57,417.26 354.11,417.95 355.65,458.9 357.19,426.24 358.73,440.46 360.27,419.12 361.81,433.62 363.35,407.09 364.89,402.19 366.43,414.66 367.97,414.48 369.51,419.93 371.05,433.14 372.59,426.22 374.13,434.31 375.67,412.72 377.21,421.86 378.75,408 380.29,454.65 381.83,400.52 383.37,440.83 384.91,440.14 386.45,427.02 387.99,435.96 389.53,415.09 391.07,436.22 392.61,448.32 394.15,442.86 395.69,390.15 397.23,421.12 398.77,450.72 400.31,422 401.85,460.2 403.39,378.49 404.93,459.44 406.47,410.51 408.01,408.92 409.55,457.62 411.09,414.87 412.63,397.84 414.17,410.78 415.71,415.82 417.25,399.02 418.79,418.27 420.33,413.98 421.87,425.3 423.42,406.77 424.96,445.19 426.5,402.86 428.04,434.54 429.58,448.84 431.12,413.28 432.66,380.85 434.2,398.71 435.74,434.8 437.28,405.15 438.82,433.29 440.36,425.23 441.9,420.01 443.44,478.8 444.98,417.52 446.52,447.35 448.06,439.23 449.6,458.21 451.14,459.24 452.68,445.24 454.22,402.03 455.76,381.51 457.3,422.82 458.84,395.53 460.38,428.65 461.92,468.9 463.46,418.54 465,411.31 466.54,432.67 468.08,414.82 469.62,408.21 471.16,443.29 472.7,458.27 474.24,427.6 475.78,427.36 477.32,430.81 478.86,398.09 480.4,380.05 481.94,432.38 483.48,405.13 485.02,399.22 486.56,404.78 488.1,396.61 489.64,366.52 491.18,404.13 492.72,372.75 494.26,402.57 495.8,437.34 497.34,407.36 498.88,391.37 500.42,413.19 501.96,435.96 503.5,384.51 505.04,477.88 506.58,409.9 508.12,422.6 509.66,451.36 511.2,392.41 512.74,413.7 514.28,450.7 515.82,407.5 517.36,432.74 518.9,468.68 520.44,439.03 521.98,415.76 523.52,406.67 525.06,418.16 526.6,421.1 528.14,410.72 529.68,427.35 531.22,393.45 532.76,418.57 534.3,415.02 535.84,408.99 537.38,448.02 538.92,439.52 540.46,384.86 542,414.01 543.54,429.1 545.08,413.86 546.62,433.96 548.16,415.4 549.7,438.46 551.24,415.46 552.78,460.74 554.32,389.69 555.86,434.73 557.4,460.82 558.94,427.67 560.48,431.26 562.02,418.48 563.56,450.17 565.1,412.49 566.64,344.97 568.18,453.43 569.72,413.95 571.26,429.79 572.8,417.5 574.34,466.45 575.88,450.31 577.42,410.97 578.96,423.14 580.5,382.26 582.04,439.42 583.58,417.94 585.12,364.73 586.66,440.9 588.2,444.28 589.74,423.06 591.28,423.29 592.82,401.58 594.36,419.04 595.9,440.68 597.44,417.04 598.98,357.75 600.52,391.14 602.06,488.65 603.6,425.67 605.14,443.57 606.68,407 608.22,426.43 609.76,374.99 611.3,399.45 612.84,400.45 614.38,417.64 615.92,423.18 617.46,413.89 619,390.56 620.54,409.15 622.08,379.1 623.62,332.4 625.16,417.51 626.7,424.1 628.24,441.53 629.78,436.02 631.32,437.74 632.86,488.65 634.4,397.36 635.94,408.36 637.48,427.43 639.03,396.65 640.57,411.5 642.11,413.12 643.65,482.65 645.19,427.89 646.73,409.2 648.27,382.88 649.81,377.25 651.35,387.37 652.89,450.57 654.43,475.88 655.97,408.27 657.51,421.53 659.05,398.69 660.59,425.27 662.13,416.83 663.67,458.84 665.21,411.26 666.75,433.07 668.29,413.65 669.83,410.98 671.37,425.06 672.91,414.46 674.45,422.53 675.99,403.66 677.53,409.94 679.07,435.57 680.61,436.56 682.15,379.61 683.69,424.68 685.23,397.97 686.77,412.59 688.31,435.98 689.85,440.49 691.39,419.27 692.93,415.93 694.47,407.19 696.01,453.15 697.55,436.73 699.09,424.52 700.63,383.1 702.17,479.85 703.71,411.47 705.25,435.39 706.79,411.66 708.33,434.22 709.87,413.3 711.41,383.98 712.95,413.55 714.49,411.61 716.03,413.09 717.57,440.53 719.11,408.94 720.65,427.29 722.19,442.03 723.73,423.14 725.27,427.75 726.81,403.8 728.35,423.25 729.89,435.13 731.43,386.64 732.97,483.98 734.51,391.19 736.05,407.36 737.59,424.88 739.13,432.44 740.67,429.02 742.21,399.05 743.75,419.47 745.29,458.42 746.83,423.15 748.37,456.79 749.91,418.15 751.45,451.6 752.99,453.07 754.53,419.3 756.07,424.11 757.61,462.79 759.15,403.92 760.69,369.37 762.23,458.38 763.77,377.75 765.31,439 766.85,434.27 768.39,426.57 769.93,457.5 771.47,390.47 773.01,410.17 774.55,440.55 776.09,357.54 777.63,459.24 779.17,430.69 780.71,399.33 782.25,464.1 783.79,432.86 785.33,418.61 786.87,396.6 788.41,389.24 789.95,433.37 791.49,440.28 793.03,411.2 794.57,431.07 796.11,429.77 797.65,395.82 799.19,380.93 800.73,415.71 802.27,426.89 803.81,408.25 805.35,468.3 806.89,422.65 808.43,448.11 809.97,363.84 811.51,404.61 813.05,418.75 814.59,426.95 816.13,483.63 817.67,404.79 819.21,382.4 820.75,440 822.29,405.51 823.83,404.55 825.37,460.01 826.91,399.34 828.45,389.11 829.99,416.62 831.53,423.74 833.07,402.95 834.61,459.83 836.15,419.92 837.69,396.45 839.23,452.55 840.77,397.96 842.31,432.42 843.85,473.03 845.39,424.78 846.93,445.94 848.47,414.4 850.01,450.83 851.55,396.55 853.09,440.25 854.64,413.5 856.18,436.71 857.72,430.09 859.26,393.09 860.8,416.94 862.34,431.85 863.88,452.77 865.42,393.87 866.96,404.3 868.5,430.18 870.04,416.26 871.58,447.35 873.12,446.99 874.66,442.38 876.2,413.57 877.74,414.97 879.28,440.4 880.82,404.18 882.36,403.03 883.9,417.98 885.44,396.84 886.98,429.22 888.52,424.96 890.06,410.65 891.6,423.03 893.14,402.81 894.68,452.8 896.22,387.37 897.76,441.28 899.3,426.22 900.84,455.85 902.38,407.54 903.92,391.09 905.46,396.04 907,401.84 908.54,460.23 910.08,441.3 911.62,433.5 913.16,445.03 914.7,394.78 916.24,417.69 917.78,422.8 919.32,410.29 920.86,445.44 922.4,348.56 923.94,443.73 925.48,410.05 927.02,413.86 928.56,408.08 930.1,395.86 931.64,455.35 933.18,435.89 934.72,418.6 936.26,455.14 937.8,435.2 939.34,397.43 940.88,395.27 942.42,395.9 943.96,421.15 945.5,427.38 947.04,395.83 948.58,431.3 950.12,413.94 951.66,389.83 953.2,431.18 954.74,437.11 956.28,479.67 957.82,366.52 959.36,410.42 960.9,379.1" fill="none" stroke="#ed1c24" stroke-width="4" stroke-linejoin="round" stroke-linecap="round" stroke-linejoin="miter"/>
<line x1="100" y1="422.2" x2="960.9" y2="422.2" stroke="#2e3192" stroke-width="8"/>
<line x1="100" y1="512" x2="100" y2="503.6" stroke="#231f20" stroke-width="1.8"/>
<line x1="100" y1="332.4" x2="100" y2="340.8" stroke="#231f20" stroke-width="1.8"/>
<line x1="272.18" y1="512" x2="272.18" y2="503.6" stroke="#231f20" stroke-width="1.8"/>
<line x1="272.18" y1="332.4" x2="272.18" y2="340.8" stroke="#231f20" stroke-width="1.8"/>
<line x1="444.36" y1="512" x2="444.36" y2="503.6" stroke="#231f20" stroke-width="1.8"/>
<line x1="444.36" y1="332.4" x2="444.36" y2="340.8" stroke="#231f20" stroke-width="1.8"/>
<line x1="616.54" y1="512" x2="616.54" y2="503.6" stroke="#231f20" stroke-width="1.8"/>
<line x1="616.54" y1="332.4" x2="616.54" y2="340.8" stroke="#231f20" stroke-width="1.8"/>
<line x1="788.72" y1="512" x2="788.72" y2="503.6" stroke="#231f20" stroke-width="1.8"/>
<line x1="788.72" y1="332.4" x2="788.72" y2="340.8" stroke="#231f20" stroke-width="1.8"/>
<line x1="960.9" y1="512" x2="960.9" y2="503.6" stroke="#231f20" stroke-width="1.8"/>
<line x1="960.9" y1="332.4" x2="960.9" y2="340.8" stroke="#231f20" stroke-width="1.8"/>
<line x1="100" y1="494.04" x2="108.4" y2="494.04" stroke="#231f20" stroke-width="1.8"/>
<line x1="960.9" y1="494.04" x2="952.5" y2="494.04" stroke="#231f20" stroke-width="1.8"/>
<line x1="100" y1="458.12" x2="108.4" y2="458.12" stroke="#231f20" stroke-width="1.8"/>
<line x1="960.9" y1="458.12" x2="952.5" y2="458.12" stroke="#231f20" stroke-width="1.8"/>
<line x1="100" y1="422.2" x2="108.4" y2="422.2" stroke="#231f20" stroke-width="1.8"/>
<line x1="960.9" y1="422.2" x2="952.5" y2="422.2" stroke="#231f20" stroke-width="1.8"/>
<line x1="100" y1="386.28" x2="108.4" y2="386.28" stroke="#231f20" stroke-width="1.8"/>
<line x1="960.9" y1="386.28" x2="952.5" y2="386.28" stroke="#231f20" stroke-width="1.8"/>
<line x1="100" y1="350.36" x2="108.4" y2="350.36" stroke="#231f20" stroke-width="1.8"/>
<line x1="960.9" y1="350.36" x2="952.5" y2="350.36" stroke="#231f20" stroke-width="1.8"/>
<rect x="100" y="332.4" width="860.9" height="179.6" fill="none" stroke="#231f20" stroke-width="2"/>
<line x1="97.1" y1="838.5" x2="97.1" y2="834.8" stroke="#231f20" stroke-width="1.5"/>
<line x1="97.1" y1="659.1" x2="97.1" y2="662.8" stroke="#231f20" stroke-width="1.5"/>
<line x1="171.42" y1="838.5" x2="171.42" y2="834.8" stroke="#231f20" stroke-width="1.5"/>
<line x1="171.42" y1="659.1" x2="171.42" y2="662.8" stroke="#231f20" stroke-width="1.5"/>
<line x1="245.74" y1="838.5" x2="245.74" y2="834.8" stroke="#231f20" stroke-width="1.5"/>
<line x1="245.74" y1="659.1" x2="245.74" y2="662.8" stroke="#231f20" stroke-width="1.5"/>
<line x1="320.06" y1="838.5" x2="320.06" y2="834.8" stroke="#231f20" stroke-width="1.5"/>
<line x1="320.06" y1="659.1" x2="320.06" y2="662.8" stroke="#231f20" stroke-width="1.5"/>
<line x1="394.38" y1="838.5" x2="394.38" y2="834.8" stroke="#231f20" stroke-width="1.5"/>
<line x1="394.38" y1="659.1" x2="394.38" y2="662.8" stroke="#231f20" stroke-width="1.5"/>
<line x1="468.7" y1="838.5" x2="468.7" y2="834.8" stroke="#231f20" stroke-width="1.5"/>
<line x1="468.7" y1="659.1" x2="468.7" y2="662.8" stroke="#231f20" stroke-width="1.5"/>
<line x1="97.1" y1="838.5" x2="100.8" y2="838.5" stroke="#231f20" stroke-width="1.5"/>
<line x1="468.7" y1="838.5" x2="465" y2="838.5" stroke="#231f20" stroke-width="1.5"/>
<line x1="97.1" y1="793.65" x2="100.8" y2="793.65" stroke="#231f20" stroke-width="1.5"/>
<line x1="468.7" y1="793.65" x2="465" y2="793.65" stroke="#231f20" stroke-width="1.5"/>
<line x1="97.1" y1="748.8" x2="100.8" y2="748.8" stroke="#231f20" stroke-width="1.5"/>
<line x1="468.7" y1="748.8" x2="465" y2="748.8" stroke="#231f20" stroke-width="1.5"/>
<line x1="97.1" y1="703.95" x2="100.8" y2="703.95" stroke="#231f20" stroke-width="1.5"/>
<line x1="468.7" y1="703.95" x2="465" y2="703.95" stroke="#231f20" stroke-width="1.5"/>
<rect x="97.1" y="659.1" width="371.6" height="179.4" fill="none" stroke="#231f20" stroke-width="1.8"/>
<polyline points="134.26,837.6 171.42,834.46 208.58,827.74 245.74,813.83 282.9,792.75 320.06,767.64 357.22,739.83 394.38,710.68 431.54,680.18" fill="none" stroke="#231f20" stroke-width="3.6" stroke-linejoin="round" stroke-linecap="round"/>
<circle cx="134.26" cy="837.6" r="6" fill="none" stroke="#231f20" stroke-width="1.8"/>
<circle cx="171.42" cy="834.46" r="6" fill="none" stroke="#231f20" stroke-width="1.8"/>
<circle cx="208.58" cy="827.74" r="6" fill="none" stroke="#231f20" stroke-width="1.8"/>
<circle cx="245.74" cy="813.83" r="6" fill="none" stroke="#231f20" stroke-width="1.8"/>
<circle cx="282.9" cy="792.75" r="6" fill="none" stroke="#231f20" stroke-width="1.8"/>
<circle cx="320.06" cy="767.64" r="6" fill="none" stroke="#231f20" stroke-width="1.8"/>
<circle cx="357.22" cy="739.83" r="6" fill="none" stroke="#231f20" stroke-width="1.8"/>
<circle cx="394.38" cy="710.68" r="6" fill="none" stroke="#231f20" stroke-width="1.8"/>
<circle cx="431.54" cy="680.18" r="6" fill="none" stroke="#231f20" stroke-width="1.8"/>
<line x1="590.4" y1="838.7" x2="590.4" y2="835" stroke="#231f20" stroke-width="1.5"/>
<line x1="590.4" y1="658.8" x2="590.4" y2="662.5" stroke="#231f20" stroke-width="1.5"/>
<line x1="664.7" y1="838.7" x2="664.7" y2="835" stroke="#231f20" stroke-width="1.5"/>
<line x1="664.7" y1="658.8" x2="664.7" y2="662.5" stroke="#231f20" stroke-width="1.5"/>
<line x1="739" y1="838.7" x2="739" y2="835" stroke="#231f20" stroke-width="1.5"/>
<line x1="739" y1="658.8" x2="739" y2="662.5" stroke="#231f20" stroke-width="1.5"/>
<line x1="813.3" y1="838.7" x2="813.3" y2="835" stroke="#231f20" stroke-width="1.5"/>
<line x1="813.3" y1="658.8" x2="813.3" y2="662.5" stroke="#231f20" stroke-width="1.5"/>
<line x1="887.6" y1="838.7" x2="887.6" y2="835" stroke="#231f20" stroke-width="1.5"/>
<line x1="887.6" y1="658.8" x2="887.6" y2="662.5" stroke="#231f20" stroke-width="1.5"/>
<line x1="961.9" y1="838.7" x2="961.9" y2="835" stroke="#231f20" stroke-width="1.5"/>
<line x1="961.9" y1="658.8" x2="961.9" y2="662.5" stroke="#231f20" stroke-width="1.5"/>
<line x1="590.4" y1="838.7" x2="594.1" y2="838.7" stroke="#231f20" stroke-width="1.5"/>
<line x1="961.9" y1="838.7" x2="958.2" y2="838.7" stroke="#231f20" stroke-width="1.5"/>
<line x1="590.4" y1="802.72" x2="594.1" y2="802.72" stroke="#231f20" stroke-width="1.5"/>
<line x1="961.9" y1="802.72" x2="958.2" y2="802.72" stroke="#231f20" stroke-width="1.5"/>
<line x1="590.4" y1="766.74" x2="594.1" y2="766.74" stroke="#231f20" stroke-width="1.5"/>
<line x1="961.9" y1="766.74" x2="958.2" y2="766.74" stroke="#231f20" stroke-width="1.5"/>
<line x1="590.4" y1="730.76" x2="594.1" y2="730.76" stroke="#231f20" stroke-width="1.5"/>
<line x1="961.9" y1="730.76" x2="958.2" y2="730.76" stroke="#231f20" stroke-width="1.5"/>
<line x1="590.4" y1="694.78" x2="594.1" y2="694.78" stroke="#231f20" stroke-width="1.5"/>
<line x1="961.9" y1="694.78" x2="958.2" y2="694.78" stroke="#231f20" stroke-width="1.5"/>
<rect x="590.4" y="658.8" width="371.5" height="179.9" fill="none" stroke="#231f20" stroke-width="1.8"/>
<polyline points="627.55,837.69 664.7,832.94 701.85,825.32 739,810.85 776.15,789.05 813.3,765.16 850.45,739.25 887.6,711.69 924.75,684.49" fill="none" stroke="#231f20" stroke-width="3.6" stroke-linejoin="round" stroke-linecap="round"/>
<circle cx="627.55" cy="837.69" r="6" fill="none" stroke="#231f20" stroke-width="1.8"/>
<circle cx="664.7" cy="832.94" r="6" fill="none" stroke="#231f20" stroke-width="1.8"/>
<circle cx="701.85" cy="825.32" r="6" fill="none" stroke="#231f20" stroke-width="1.8"/>
<circle cx="739" cy="810.85" r="6" fill="none" stroke="#231f20" stroke-width="1.8"/>
<circle cx="776.15" cy="789.05" r="6" fill="none" stroke="#231f20" stroke-width="1.8"/>
<circle cx="813.3" cy="765.16" r="6" fill="none" stroke="#231f20" stroke-width="1.8"/>
<circle cx="850.45" cy="739.25" r="6" fill="none" stroke="#231f20" stroke-width="1.8"/>
<circle cx="887.6" cy="711.69" r="6" fill="none" stroke="#231f20" stroke-width="1.8"/>
<circle cx="924.75" cy="684.49" r="6" fill="none" stroke="#231f20" stroke-width="1.8"/>
<line x1="1131.4" y1="334.7" x2="1131.4" y2="331" stroke="#231f20" stroke-width="1.5"/>
<line x1="1131.4" y1="50.2" x2="1131.4" y2="53.9" stroke="#231f20" stroke-width="1.5"/>
<line x1="1205.7" y1="334.7" x2="1205.7" y2="331" stroke="#231f20" stroke-width="1.5"/>
<line x1="1205.7" y1="50.2" x2="1205.7" y2="53.9" stroke="#231f20" stroke-width="1.5"/>
<line x1="1280" y1="334.7" x2="1280" y2="331" stroke="#231f20" stroke-width="1.5"/>
<line x1="1280" y1="50.2" x2="1280" y2="53.9" stroke="#231f20" stroke-width="1.5"/>
<line x1="1354.3" y1="334.7" x2="1354.3" y2="331" stroke="#231f20" stroke-width="1.5"/>
<line x1="1354.3" y1="50.2" x2="1354.3" y2="53.9" stroke="#231f20" stroke-width="1.5"/>
<line x1="1428.6" y1="334.7" x2="1428.6" y2="331" stroke="#231f20" stroke-width="1.5"/>
<line x1="1428.6" y1="50.2" x2="1428.6" y2="53.9" stroke="#231f20" stroke-width="1.5"/>
<line x1="1502.9" y1="334.7" x2="1502.9" y2="331" stroke="#231f20" stroke-width="1.5"/>
<line x1="1502.9" y1="50.2" x2="1502.9" y2="53.9" stroke="#231f20" stroke-width="1.5"/>
<line x1="1131.4" y1="334.7" x2="1135.1" y2="334.7" stroke="#231f20" stroke-width="1.5"/>
<line x1="1502.9" y1="334.7" x2="1499.2" y2="334.7" stroke="#231f20" stroke-width="1.5"/>
<line x1="1131.4" y1="277.8" x2="1135.1" y2="277.8" stroke="#231f20" stroke-width="1.5"/>
<line x1="1502.9" y1="277.8" x2="1499.2" y2="277.8" stroke="#231f20" stroke-width="1.5"/>
<line x1="1131.4" y1="220.9" x2="1135.1" y2="220.9" stroke="#231f20" stroke-width="1.5"/>
<line x1="1502.9" y1="220.9" x2="1499.2" y2="220.9" stroke="#231f20" stroke-width="1.5"/>
<line x1="1131.4" y1="164" x2="1135.1" y2="164" stroke="#231f20" stroke-width="1.5"/>
<line x1="1502.9" y1="164" x2="1499.2" y2="164" stroke="#231f20" stroke-width="1.5"/>
<line x1="1131.4" y1="107.1" x2="1135.1" y2="107.1" stroke="#231f20" stroke-width="1.5"/>
<line x1="1502.9" y1="107.1" x2="1499.2" y2="107.1" stroke="#231f20" stroke-width="1.5"/>
<line x1="1131.4" y1="50.2" x2="1135.1" y2="50.2" stroke="#231f20" stroke-width="1.5"/>
<line x1="1502.9" y1="50.2" x2="1499.2" y2="50.2" stroke="#231f20" stroke-width="1.5"/>
<rect x="1131.4" y="50.2" width="371.5" height="284.5" fill="none" stroke="#231f20" stroke-width="1.8"/>
<polyline points="1168.55,132.99 1205.7,206.11 1242.85,181.64 1280,200.7 1317.15,121.61 1354.3,160.59 1391.45,315.64 1428.6,152.05 1465.75,224.6" fill="none" stroke="#2e3192" stroke-width="3.4" stroke-linejoin="round" stroke-linecap="round"/>
<circle cx="1168.55" cy="132.99" r="6.1" fill="none" stroke="#2e3192" stroke-width="4.2"/>
<circle cx="1205.7" cy="206.11" r="6.1" fill="none" stroke="#2e3192" stroke-width="4.2"/>
<circle cx="1242.85" cy="181.64" r="6.1" fill="none" stroke="#2e3192" stroke-width="4.2"/>
<circle cx="1280" cy="200.7" r="6.1" fill="none" stroke="#2e3192" stroke-width="4.2"/>
<circle cx="1317.15" cy="121.61" r="6.1" fill="none" stroke="#2e3192" stroke-width="4.2"/>
<circle cx="1354.3" cy="160.59" r="6.1" fill="none" stroke="#2e3192" stroke-width="4.2"/>
<circle cx="1391.45" cy="315.64" r="6.1" fill="none" stroke="#2e3192" stroke-width="4.2"/>
<circle cx="1428.6" cy="152.05" r="6.1" fill="none" stroke="#2e3192" stroke-width="4.2"/>
<circle cx="1465.75" cy="224.6" r="6.1" fill="none" stroke="#2e3192" stroke-width="4.2"/>
<polyline points="1168.55,157.46 1205.7,162.29 1242.85,141.81 1280,175.66 1317.15,183.06 1354.3,202.41 1391.45,216.06 1428.6,93.16 1465.75,198.14" fill="none" stroke="#00a651" stroke-width="3.4" stroke-linejoin="round" stroke-linecap="round"/>
<circle cx="1168.55" cy="157.46" r="6.1" fill="none" stroke="#00a651" stroke-width="4.2"/>
<circle cx="1205.7" cy="162.29" r="6.1" fill="none" stroke="#00a651" stroke-width="4.2"/>
<circle cx="1242.85" cy="141.81" r="6.1" fill="none" stroke="#00a651" stroke-width="4.2"/>
<circle cx="1280" cy="175.66" r="6.1" fill="none" stroke="#00a651" stroke-width="4.2"/>
<circle cx="1317.15" cy="183.06" r="6.1" fill="none" stroke="#00a651" stroke-width="4.2"/>
<circle cx="1354.3" cy="202.41" r="6.1" fill="none" stroke="#00a651" stroke-width="4.2"/>
<circle cx="1391.45" cy="216.06" r="6.1" fill="none" stroke="#00a651" stroke-width="4.2"/>
<circle cx="1428.6" cy="93.16" r="6.1" fill="none" stroke="#00a651" stroke-width="4.2"/>
<circle cx="1465.75" cy="198.14" r="6.1" fill="none" stroke="#00a651" stroke-width="4.2"/>
<polyline points="1168.55,164 1205.7,168.84 1242.85,196.72 1280,235.98 1317.15,174.81 1354.3,199.56 1391.45,179.65 1428.6,107.38 1465.75,247.64" fill="none" stroke="#ed1c24" stroke-width="3.4" stroke-linejoin="round" stroke-linecap="round"/>
<circle cx="1168.55" cy="164" r="6.1" fill="none" stroke="#ed1c24" stroke-width="4.2"/>
<circle cx="1205.7" cy="168.84" r="6.1" fill="none" stroke="#ed1c24" stroke-width="4.2"/>
<circle cx="1242.85" cy="196.72" r="6.1" fill="none" stroke="#ed1c24" stroke-width="4.2"/>
<circle cx="1280" cy="235.98" r="6.1" fill="none" stroke="#ed1c24" stroke-width="4.2"/>
<circle cx="1317.15" cy="174.81" r="6.1" fill="none" stroke="#ed1c24" stroke-width="4.2"/>
<circle cx="1354.3" cy="199.56" r="6.1" fill="none" stroke="#ed1c24" stroke-width="4.2"/>
<circle cx="1391.45" cy="179.65" r="6.1" fill="none" stroke="#ed1c24" stroke-width="4.2"/>
<circle cx="1428.6" cy="107.38" r="6.1" fill="none" stroke="#ed1c24" stroke-width="4.2"/>
<circle cx="1465.75" cy="247.64" r="6.1" fill="none" stroke="#ed1c24" stroke-width="4.2"/>
<polyline points="1168.55,166.56 1205.7,179.65 1242.85,179.65 1280,171.68 1317.15,196.15 1354.3,168.27 1391.45,252.19 1428.6,233.42 1465.75,198.71" fill="none" stroke="#00aeef" stroke-width="3.4" stroke-linejoin="round" stroke-linecap="round"/>
<circle cx="1168.55" cy="166.56" r="6.1" fill="none" stroke="#00aeef" stroke-width="4.2"/>
<circle cx="1205.7" cy="179.65" r="6.1" fill="none" stroke="#00aeef" stroke-width="4.2"/>
<circle cx="1242.85" cy="179.65" r="6.1" fill="none" stroke="#00aeef" stroke-width="4.2"/>
<circle cx="1280" cy="171.68" r="6.1" fill="none" stroke="#00aeef" stroke-width="4.2"/>
<circle cx="1317.15" cy="196.15" r="6.1" fill="none" stroke="#00aeef" stroke-width="4.2"/>
<circle cx="1354.3" cy="168.27" r="6.1" fill="none" stroke="#00aeef" stroke-width="4.2"/>
<circle cx="1391.45" cy="252.19" r="6.1" fill="none" stroke="#00aeef" stroke-width="4.2"/>
<circle cx="1428.6" cy="233.42" r="6.1" fill="none" stroke="#00aeef" stroke-width="4.2"/>
<circle cx="1465.75" cy="198.71" r="6.1" fill="none" stroke="#00aeef" stroke-width="4.2"/>
<polyline points="1168.55,161.72 1205.7,160.3 1242.85,163.72 1280,183.91 1317.15,153.19 1354.3,173.67 1391.45,194.44 1428.6,239.11 1465.75,235.98" fill="none" stroke="#ec008c" stroke-width="3.4" stroke-linejoin="round" stroke-linecap="round"/>
<circle cx="1168.55" cy="161.72" r="6.1" fill="none" stroke="#ec008c" stroke-width="4.2"/>
<circle cx="1205.7" cy="160.3" r="6.1" fill="none" stroke="#ec008c" stroke-width="4.2"/>
<circle cx="1242.85" cy="163.72" r="6.1" fill="none" stroke="#ec008c" stroke-width="4.2"/>
<circle cx="1280" cy="183.91" r="6.1" fill="none" stroke="#ec008c" stroke-width="4.2"/>
<circle cx="1317.15" cy="153.19" r="6.1" fill="none" stroke="#ec008c" stroke-width="4.2"/>
<circle cx="1354.3" cy="173.67" r="6.1" fill="none" stroke="#ec008c" stroke-width="4.2"/>
<circle cx="1391.45" cy="194.44" r="6.1" fill="none" stroke="#ec008c" stroke-width="4.2"/>
<circle cx="1428.6" cy="239.11" r="6.1" fill="none" stroke="#ec008c" stroke-width="4.2"/>
<circle cx="1465.75" cy="235.98" r="6.1" fill="none" stroke="#ec008c" stroke-width="4.2"/>
<polyline points="1168.55,168.84 1205.7,168.27 1242.85,171.68 1280,186.76 1317.15,186.19 1354.3,160.59 1391.45,177.94 1428.6,201.84 1465.75,200.42" fill="none" stroke="#fff200" stroke-width="3.4" stroke-linejoin="round" stroke-linecap="round"/>
<circle cx="1168.55" cy="168.84" r="6.1" fill="none" stroke="#fff200" stroke-width="4.2"/>
<circle cx="1205.7" cy="168.27" r="6.1" fill="none" stroke="#fff200" stroke-width="4.2"/>
<circle cx="1242.85" cy="171.68" r="6.1" fill="none" stroke="#fff200" stroke-width="4.2"/>
<circle cx="1280" cy="186.76" r="6.1" fill="none" stroke="#fff200" stroke-width="4.2"/>
<circle cx="1317.15" cy="186.19" r="6.1" fill="none" stroke="#fff200" stroke-width="4.2"/>
<circle cx="1354.3" cy="160.59" r="6.1" fill="none" stroke="#fff200" stroke-width="4.2"/>
<circle cx="1391.45" cy="177.94" r="6.1" fill="none" stroke="#fff200" stroke-width="4.2"/>
<circle cx="1428.6" cy="201.84" r="6.1" fill="none" stroke="#fff200" stroke-width="4.2"/>
<circle cx="1465.75" cy="200.42" r="6.1" fill="none" stroke="#fff200" stroke-width="4.2"/>
<line x1="1620.7" y1="334.7" x2="1620.7" y2="331" stroke="#231f20" stroke-width="1.5"/>
<line x1="1620.7" y1="49.9" x2="1620.7" y2="53.6" stroke="#231f20" stroke-width="1.5"/>
<line x1="1695" y1="334.7" x2="1695" y2="331" stroke="#231f20" stroke-width="1.5"/>
<line x1="1695" y1="49.9" x2="1695" y2="53.6" stroke="#231f20" stroke-width="1.5"/>
<line x1="1769.3" y1="334.7" x2="1769.3" y2="331" stroke="#231f20" stroke-width="1.5"/>
<line x1="1769.3" y1="49.9" x2="1769.3" y2="53.6" stroke="#231f20" stroke-width="1.5"/>
<line x1="1843.6" y1="334.7" x2="1843.6" y2="331" stroke="#231f20" stroke-width="1.5"/>
<line x1="1843.6" y1="49.9" x2="1843.6" y2="53.6" stroke="#231f20" stroke-width="1.5"/>
<line x1="1917.9" y1="334.7" x2="1917.9" y2="331" stroke="#231f20" stroke-width="1.5"/>
<line x1="1917.9" y1="49.9" x2="1917.9" y2="53.6" stroke="#231f20" stroke-width="1.5"/>
<line x1="1992.2" y1="334.7" x2="1992.2" y2="331" stroke="#231f20" stroke-width="1.5"/>
<line x1="1992.2" y1="49.9" x2="1992.2" y2="53.6" stroke="#231f20" stroke-width="1.5"/>
<line x1="1620.7" y1="260.18" x2="1624.4" y2="260.18" stroke="#231f20" stroke-width="1.5"/>
<line x1="1992.2" y1="260.18" x2="1988.5" y2="260.18" stroke="#231f20" stroke-width="1.5"/>
<line x1="1620.7" y1="136.41" x2="1624.4" y2="136.41" stroke="#231f20" stroke-width="1.5"/>
<line x1="1992.2" y1="136.41" x2="1988.5" y2="136.41" stroke="#231f20" stroke-width="1.5"/>
<line x1="1620.7" y1="324.9" x2="1622.9" y2="324.9" stroke="#231f20" stroke-width="1.5"/>
<line x1="1992.2" y1="324.9" x2="1990" y2="324.9" stroke="#231f20" stroke-width="1.5"/>
<line x1="1620.7" y1="309.44" x2="1622.9" y2="309.44" stroke="#231f20" stroke-width="1.5"/>
<line x1="1992.2" y1="309.44" x2="1990" y2="309.44" stroke="#231f20" stroke-width="1.5"/>
<line x1="1620.7" y1="297.44" x2="1622.9" y2="297.44" stroke="#231f20" stroke-width="1.5"/>
<line x1="1992.2" y1="297.44" x2="1990" y2="297.44" stroke="#231f20" stroke-width="1.5"/>
<line x1="1620.7" y1="287.64" x2="1622.9" y2="287.64" stroke="#231f20" stroke-width="1.5"/>
<line x1="1992.2" y1="287.64" x2="1990" y2="287.64" stroke="#231f20" stroke-width="1.5"/>
<line x1="1620.7" y1="279.35" x2="1622.9" y2="279.35" stroke="#231f20" stroke-width="1.5"/>
<line x1="1992.2" y1="279.35" x2="1990" y2="279.35" stroke="#231f20" stroke-width="1.5"/>
<line x1="1620.7" y1="272.18" x2="1622.9" y2="272.18" stroke="#231f20" stroke-width="1.5"/>
<line x1="1992.2" y1="272.18" x2="1990" y2="272.18" stroke="#231f20" stroke-width="1.5"/>
<line x1="1620.7" y1="265.85" x2="1622.9" y2="265.85" stroke="#231f20" stroke-width="1.5"/>
<line x1="1992.2" y1="265.85" x2="1990" y2="265.85" stroke="#231f20" stroke-width="1.5"/>
<line x1="1620.7" y1="222.92" x2="1622.9" y2="222.92" stroke="#231f20" stroke-width="1.5"/>
<line x1="1992.2" y1="222.92" x2="1990" y2="222.92" stroke="#231f20" stroke-width="1.5"/>
<line x1="1620.7" y1="201.13" x2="1622.9" y2="201.13" stroke="#231f20" stroke-width="1.5"/>
<line x1="1992.2" y1="201.13" x2="1990" y2="201.13" stroke="#231f20" stroke-width="1.5"/>
<line x1="1620.7" y1="185.67" x2="1622.9" y2="185.67" stroke="#231f20" stroke-width="1.5"/>
<line x1="1992.2" y1="185.67" x2="1990" y2="185.67" stroke="#231f20" stroke-width="1.5"/>
<line x1="1620.7" y1="173.67" x2="1622.9" y2="173.67" stroke="#231f20" stroke-width="1.5"/>
<line x1="1992.2" y1="173.67" x2="1990" y2="173.67" stroke="#231f20" stroke-width="1.5"/>
<line x1="1620.7" y1="163.87" x2="1622.9" y2="163.87" stroke="#231f20" stroke-width="1.5"/>
<line x1="1992.2" y1="163.87" x2="1990" y2="163.87" stroke="#231f20" stroke-width="1.5"/>
<line x1="1620.7" y1="155.58" x2="1622.9" y2="155.58" stroke="#231f20" stroke-width="1.5"/>
<line x1="1992.2" y1="155.58" x2="1990" y2="155.58" stroke="#231f20" stroke-width="1.5"/>
<line x1="1620.7" y1="148.41" x2="1622.9" y2="148.41" stroke="#231f20" stroke-width="1.5"/>
<line x1="1992.2" y1="148.41" x2="1990" y2="148.41" stroke="#231f20" stroke-width="1.5"/>
<line x1="1620.7" y1="142.08" x2="1622.9" y2="142.08" stroke="#231f20" stroke-width="1.5"/>
<line x1="1992.2" y1="142.08" x2="1990" y2="142.08" stroke="#231f20" stroke-width="1.5"/>
<line x1="1620.7" y1="99.15" x2="1622.9" y2="99.15" stroke="#231f20" stroke-width="1.5"/>
<line x1="1992.2" y1="99.15" x2="1990" y2="99.15" stroke="#231f20" stroke-width="1.5"/>
<line x1="1620.7" y1="77.36" x2="1622.9" y2="77.36" stroke="#231f20" stroke-width="1.5"/>
<line x1="1992.2" y1="77.36" x2="1990" y2="77.36" stroke="#231f20" stroke-width="1.5"/>
<line x1="1620.7" y1="61.89" x2="1622.9" y2="61.89" stroke="#231f20" stroke-width="1.5"/>
<line x1="1992.2" y1="61.89" x2="1990" y2="61.89" stroke="#231f20" stroke-width="1.5"/>
<rect x="1620.7" y="49.9" width="371.5" height="284.8" fill="none" stroke="#231f20" stroke-width="1.8"/>
<line x1="1620.7" y1="136.41" x2="1992.2" y2="136.41" stroke="#231f20" stroke-width="3.4" stroke-dasharray="12.4 12.4"/>
<polyline points="1657.85,194.78 1695,162.46 1732.15,142.98 1769.3,120.41 1806.45,116.42 1843.6,102.7 1880.75,94.29 1917.9,85.44 1955.05,81.89" fill="none" stroke="#2e3192" stroke-width="3.4" stroke-linejoin="round" stroke-linecap="round"/>
<circle cx="1657.85" cy="194.78" r="6.1" fill="none" stroke="#2e3192" stroke-width="4.2"/>
<circle cx="1695" cy="162.46" r="6.1" fill="none" stroke="#2e3192" stroke-width="4.2"/>
<circle cx="1732.15" cy="142.98" r="6.1" fill="none" stroke="#2e3192" stroke-width="4.2"/>
<circle cx="1769.3" cy="120.41" r="6.1" fill="none" stroke="#2e3192" stroke-width="4.2"/>
<circle cx="1806.45" cy="116.42" r="6.1" fill="none" stroke="#2e3192" stroke-width="4.2"/>
<circle cx="1843.6" cy="102.7" r="6.1" fill="none" stroke="#2e3192" stroke-width="4.2"/>
<circle cx="1880.75" cy="94.29" r="6.1" fill="none" stroke="#2e3192" stroke-width="4.2"/>
<circle cx="1917.9" cy="85.44" r="6.1" fill="none" stroke="#2e3192" stroke-width="4.2"/>
<circle cx="1955.05" cy="81.89" r="6.1" fill="none" stroke="#2e3192" stroke-width="4.2"/>
<polyline points="1657.85,219.12 1695,182.38 1732.15,166 1769.3,135.9 1806.45,137.23 1843.6,122.18 1880.75,112 1917.9,100.93 1955.05,102.7" fill="none" stroke="#00a651" stroke-width="3.4" stroke-linejoin="round" stroke-linecap="round"/>
<circle cx="1657.85" cy="219.12" r="6.1" fill="none" stroke="#00a651" stroke-width="4.2"/>
<circle cx="1695" cy="182.38" r="6.1" fill="none" stroke="#00a651" stroke-width="4.2"/>
<circle cx="1732.15" cy="166" r="6.1" fill="none" stroke="#00a651" stroke-width="4.2"/>
<circle cx="1769.3" cy="135.9" r="6.1" fill="none" stroke="#00a651" stroke-width="4.2"/>
<circle cx="1806.45" cy="137.23" r="6.1" fill="none" stroke="#00a651" stroke-width="4.2"/>
<circle cx="1843.6" cy="122.18" r="6.1" fill="none" stroke="#00a651" stroke-width="4.2"/>
<circle cx="1880.75" cy="112" r="6.1" fill="none" stroke="#00a651" stroke-width="4.2"/>
<circle cx="1917.9" cy="100.93" r="6.1" fill="none" stroke="#00a651" stroke-width="4.2"/>
<circle cx="1955.05" cy="102.7" r="6.1" fill="none" stroke="#00a651" stroke-width="4.2"/>
<polyline points="1657.85,242.59 1695,195.66 1732.15,186.81 1769.3,169.99 1806.45,161.58 1843.6,144.75 1880.75,135.46 1917.9,130.15 1955.05,120.41" fill="none" stroke="#ed1c24" stroke-width="3.4" stroke-linejoin="round" stroke-linecap="round"/>
<circle cx="1657.85" cy="242.59" r="6.1" fill="none" stroke="#ed1c24" stroke-width="4.2"/>
<circle cx="1695" cy="195.66" r="6.1" fill="none" stroke="#ed1c24" stroke-width="4.2"/>
<circle cx="1732.15" cy="186.81" r="6.1" fill="none" stroke="#ed1c24" stroke-width="4.2"/>
<circle cx="1769.3" cy="169.99" r="6.1" fill="none" stroke="#ed1c24" stroke-width="4.2"/>
<circle cx="1806.45" cy="161.58" r="6.1" fill="none" stroke="#ed1c24" stroke-width="4.2"/>
<circle cx="1843.6" cy="144.75" r="6.1" fill="none" stroke="#ed1c24" stroke-width="4.2"/>
<circle cx="1880.75" cy="135.46" r="6.1" fill="none" stroke="#ed1c24" stroke-width="4.2"/>
<circle cx="1917.9" cy="130.15" r="6.1" fill="none" stroke="#ed1c24" stroke-width="4.2"/>
<circle cx="1955.05" cy="120.41" r="6.1" fill="none" stroke="#ed1c24" stroke-width="4.2"/>
<polyline points="1657.85,265.6 1695,227.98 1732.15,200.53 1769.3,194.78 1806.45,179.28 1843.6,171.31 1880.75,153.17 1917.9,146.97 1955.05,135.02" fill="none" stroke="#00aeef" stroke-width="3.4" stroke-linejoin="round" stroke-linecap="round"/>
<circle cx="1657.85" cy="265.6" r="6.1" fill="none" stroke="#00aeef" stroke-width="4.2"/>
<circle cx="1695" cy="227.98" r="6.1" fill="none" stroke="#00aeef" stroke-width="4.2"/>
<circle cx="1732.15" cy="200.53" r="6.1" fill="none" stroke="#00aeef" stroke-width="4.2"/>
<circle cx="1769.3" cy="194.78" r="6.1" fill="none" stroke="#00aeef" stroke-width="4.2"/>
<circle cx="1806.45" cy="179.28" r="6.1" fill="none" stroke="#00aeef" stroke-width="4.2"/>
<circle cx="1843.6" cy="171.31" r="6.1" fill="none" stroke="#00aeef" stroke-width="4.2"/>
<circle cx="1880.75" cy="153.17" r="6.1" fill="none" stroke="#00aeef" stroke-width="4.2"/>
<circle cx="1917.9" cy="146.97" r="6.1" fill="none" stroke="#00aeef" stroke-width="4.2"/>
<circle cx="1955.05" cy="135.02" r="6.1" fill="none" stroke="#00aeef" stroke-width="4.2"/>
<polyline points="1657.85,294.38 1695,252.32 1732.15,233.29 1769.3,204.96 1806.45,202.74 1843.6,192.56 1880.75,176.18 1917.9,174.86 1955.05,157.15" fill="none" stroke="#ec008c" stroke-width="3.4" stroke-linejoin="round" stroke-linecap="round"/>
<circle cx="1657.85" cy="294.38" r="6.1" fill="none" stroke="#ec008c" stroke-width="4.2"/>
<circle cx="1695" cy="252.32" r="6.1" fill="none" stroke="#ec008c" stroke-width="4.2"/>
<circle cx="1732.15" cy="233.29" r="6.1" fill="none" stroke="#ec008c" stroke-width="4.2"/>
<circle cx="1769.3" cy="204.96" r="6.1" fill="none" stroke="#ec008c" stroke-width="4.2"/>
<circle cx="1806.45" cy="202.74" r="6.1" fill="none" stroke="#ec008c" stroke-width="4.2"/>
<circle cx="1843.6" cy="192.56" r="6.1" fill="none" stroke="#ec008c" stroke-width="4.2"/>
<circle cx="1880.75" cy="176.18" r="6.1" fill="none" stroke="#ec008c" stroke-width="4.2"/>
<circle cx="1917.9" cy="174.86" r="6.1" fill="none" stroke="#ec008c" stroke-width="4.2"/>
<circle cx="1955.05" cy="157.15" r="6.1" fill="none" stroke="#ec008c" stroke-width="4.2"/>
<polyline points="1657.85,301.02 1695,269.15 1732.15,253.21 1769.3,215.58 1806.45,217.8 1843.6,207.17 1880.75,192.56 1917.9,181.5 1955.05,185.04" fill="none" stroke="#fff200" stroke-width="3.4" stroke-linejoin="round" stroke-linecap="round"/>
<circle cx="1657.85" cy="301.02" r="6.1" fill="none" stroke="#fff200" stroke-width="4.2"/>
<circle cx="1695" cy="269.15" r="6.1" fill="none" stroke="#fff200" stroke-width="4.2"/>
<circle cx="1732.15" cy="253.21" r="6.1" fill="none" stroke="#fff200" stroke-width="4.2"/>
<circle cx="1769.3" cy="215.58" r="6.1" fill="none" stroke="#fff200" stroke-width="4.2"/>
<circle cx="1806.45" cy="217.8" r="6.1" fill="none" stroke="#fff200" stroke-width="4.2"/>
<circle cx="1843.6" cy="207.17" r="6.1" fill="none" stroke="#fff200" stroke-width="4.2"/>
<circle cx="1880.75" cy="192.56" r="6.1" fill="none" stroke="#fff200" stroke-width="4.2"/>
<circle cx="1917.9" cy="181.5" r="6.1" fill="none" stroke="#fff200" stroke-width="4.2"/>
<circle cx="1955.05" cy="185.04" r="6.1" fill="none" stroke="#fff200" stroke-width="4.2"/>
<line x1="1131.5" y1="837.8" x2="1131.5" y2="834.1" stroke="#231f20" stroke-width="1.5"/>
<line x1="1131.5" y1="552.8" x2="1131.5" y2="556.5" stroke="#231f20" stroke-width="1.5"/>
<line x1="1205.78" y1="837.8" x2="1205.78" y2="834.1" stroke="#231f20" stroke-width="1.5"/>
<line x1="1205.78" y1="552.8" x2="1205.78" y2="556.5" stroke="#231f20" stroke-width="1.5"/>
<line x1="1280.06" y1="837.8" x2="1280.06" y2="834.1" stroke="#231f20" stroke-width="1.5"/>
<line x1="1280.06" y1="552.8" x2="1280.06" y2="556.5" stroke="#231f20" stroke-width="1.5"/>
<line x1="1354.34" y1="837.8" x2="1354.34" y2="834.1" stroke="#231f20" stroke-width="1.5"/>
<line x1="1354.34" y1="552.8" x2="1354.34" y2="556.5" stroke="#231f20" stroke-width="1.5"/>
<line x1="1428.62" y1="837.8" x2="1428.62" y2="834.1" stroke="#231f20" stroke-width="1.5"/>
<line x1="1428.62" y1="552.8" x2="1428.62" y2="556.5" stroke="#231f20" stroke-width="1.5"/>
<line x1="1502.9" y1="837.8" x2="1502.9" y2="834.1" stroke="#231f20" stroke-width="1.5"/>
<line x1="1502.9" y1="552.8" x2="1502.9" y2="556.5" stroke="#231f20" stroke-width="1.5"/>
<line x1="1131.5" y1="837.8" x2="1135.2" y2="837.8" stroke="#231f20" stroke-width="1.5"/>
<line x1="1502.9" y1="837.8" x2="1499.2" y2="837.8" stroke="#231f20" stroke-width="1.5"/>
<line x1="1131.5" y1="766.55" x2="1135.2" y2="766.55" stroke="#231f20" stroke-width="1.5"/>
<line x1="1502.9" y1="766.55" x2="1499.2" y2="766.55" stroke="#231f20" stroke-width="1.5"/>
<line x1="1131.5" y1="695.3" x2="1135.2" y2="695.3" stroke="#231f20" stroke-width="1.5"/>
<line x1="1502.9" y1="695.3" x2="1499.2" y2="695.3" stroke="#231f20" stroke-width="1.5"/>
<line x1="1131.5" y1="624.05" x2="1135.2" y2="624.05" stroke="#231f20" stroke-width="1.5"/>
<line x1="1502.9" y1="624.05" x2="1499.2" y2="624.05" stroke="#231f20" stroke-width="1.5"/>
<line x1="1131.5" y1="552.8" x2="1135.2" y2="552.8" stroke="#231f20" stroke-width="1.5"/>
<line x1="1502.9" y1="552.8" x2="1499.2" y2="552.8" stroke="#231f20" stroke-width="1.5"/>
<rect x="1131.5" y="552.8" width="371.4" height="285" fill="none" stroke="#231f20" stroke-width="1.8"/>
<polyline points="1168.64,834.59 1205.78,829.07 1242.92,823.19 1280.06,811.79 1317.2,786.5 1354.34,757.64 1391.48,705.27 1428.62,642.93 1465.76,582.72" fill="none" stroke="#231f20" stroke-width="3.7" stroke-linejoin="round" stroke-linecap="round"/>
<circle cx="1168.64" cy="834.59" r="6" fill="none" stroke="#231f20" stroke-width="1.4"/>
<circle cx="1205.78" cy="829.07" r="6" fill="none" stroke="#231f20" stroke-width="4"/>
<circle cx="1242.92" cy="823.19" r="6" fill="none" stroke="#231f20" stroke-width="4"/>
<circle cx="1280.06" cy="811.79" r="6" fill="none" stroke="#231f20" stroke-width="4"/>
<circle cx="1317.2" cy="786.5" r="6" fill="none" stroke="#231f20" stroke-width="4"/>
<circle cx="1354.34" cy="757.64" r="6" fill="none" stroke="#231f20" stroke-width="4"/>
<circle cx="1391.48" cy="705.27" r="6" fill="none" stroke="#231f20" stroke-width="4"/>
<circle cx="1428.62" cy="642.93" r="6" fill="none" stroke="#231f20" stroke-width="4"/>
<circle cx="1465.76" cy="582.72" r="6" fill="none" stroke="#231f20" stroke-width="4"/>
<line x1="1620.4" y1="837.8" x2="1620.4" y2="834.1" stroke="#231f20" stroke-width="1.5"/>
<line x1="1620.4" y1="552.8" x2="1620.4" y2="556.5" stroke="#231f20" stroke-width="1.5"/>
<line x1="1694.8" y1="837.8" x2="1694.8" y2="834.1" stroke="#231f20" stroke-width="1.5"/>
<line x1="1694.8" y1="552.8" x2="1694.8" y2="556.5" stroke="#231f20" stroke-width="1.5"/>
<line x1="1769.2" y1="837.8" x2="1769.2" y2="834.1" stroke="#231f20" stroke-width="1.5"/>
<line x1="1769.2" y1="552.8" x2="1769.2" y2="556.5" stroke="#231f20" stroke-width="1.5"/>
<line x1="1843.6" y1="837.8" x2="1843.6" y2="834.1" stroke="#231f20" stroke-width="1.5"/>
<line x1="1843.6" y1="552.8" x2="1843.6" y2="556.5" stroke="#231f20" stroke-width="1.5"/>
<line x1="1918" y1="837.8" x2="1918" y2="834.1" stroke="#231f20" stroke-width="1.5"/>
<line x1="1918" y1="552.8" x2="1918" y2="556.5" stroke="#231f20" stroke-width="1.5"/>
<line x1="1992.4" y1="837.8" x2="1992.4" y2="834.1" stroke="#231f20" stroke-width="1.5"/>
<line x1="1992.4" y1="552.8" x2="1992.4" y2="556.5" stroke="#231f20" stroke-width="1.5"/>
<line x1="1620.4" y1="813.98" x2="1624.1" y2="813.98" stroke="#231f20" stroke-width="1.5"/>
<line x1="1992.4" y1="813.98" x2="1988.7" y2="813.98" stroke="#231f20" stroke-width="1.5"/>
<line x1="1620.4" y1="655.74" x2="1624.1" y2="655.74" stroke="#231f20" stroke-width="1.5"/>
<line x1="1992.4" y1="655.74" x2="1988.7" y2="655.74" stroke="#231f20" stroke-width="1.5"/>
<rect x="1620.4" y="552.8" width="372" height="285" fill="none" stroke="#231f20" stroke-width="1.8"/>
<line x1="1620.4" y1="813.98" x2="1992.4" y2="813.98" stroke="#231f20" stroke-width="3.4" stroke-dasharray="12.4 12.4"/>
<polyline points="1657.6,712.17 1694.8,737.37 1732,753.4 1769.2,771.72 1806.4,790.5 1843.6,802.41 1880.8,814.32 1918,825.78 1955.2,830.36" fill="none" stroke="#2e3192" stroke-width="3.4" stroke-linejoin="round" stroke-linecap="round"/>
<circle cx="1657.6" cy="712.17" r="6.1" fill="none" stroke="#2e3192" stroke-width="4.2"/>
<circle cx="1694.8" cy="737.37" r="6.1" fill="none" stroke="#2e3192" stroke-width="4.2"/>
<circle cx="1732" cy="753.4" r="6.1" fill="none" stroke="#2e3192" stroke-width="4.2"/>
<circle cx="1769.2" cy="771.72" r="6.1" fill="none" stroke="#2e3192" stroke-width="4.2"/>
<circle cx="1806.4" cy="790.5" r="6.1" fill="none" stroke="#2e3192" stroke-width="4.2"/>
<circle cx="1843.6" cy="802.41" r="6.1" fill="none" stroke="#2e3192" stroke-width="4.2"/>
<circle cx="1880.8" cy="814.32" r="6.1" fill="none" stroke="#2e3192" stroke-width="4.2"/>
<circle cx="1918" cy="825.78" r="6.1" fill="none" stroke="#2e3192" stroke-width="4.2"/>
<circle cx="1955.2" cy="830.36" r="6.1" fill="none" stroke="#2e3192" stroke-width="4.2"/>
<polyline points="1657.6,687.89 1694.8,715.38 1732,730.04 1769.2,748.82 1806.4,768.06 1843.6,779.97 1880.8,792.79 1918,804.25 1955.2,807.45" fill="none" stroke="#00a651" stroke-width="3.4" stroke-linejoin="round" stroke-linecap="round"/>
<circle cx="1657.6" cy="687.89" r="6.1" fill="none" stroke="#00a651" stroke-width="4.2"/>
<circle cx="1694.8" cy="715.38" r="6.1" fill="none" stroke="#00a651" stroke-width="4.2"/>
<circle cx="1732" cy="730.04" r="6.1" fill="none" stroke="#00a651" stroke-width="4.2"/>
<circle cx="1769.2" cy="748.82" r="6.1" fill="none" stroke="#00a651" stroke-width="4.2"/>
<circle cx="1806.4" cy="768.06" r="6.1" fill="none" stroke="#00a651" stroke-width="4.2"/>
<circle cx="1843.6" cy="779.97" r="6.1" fill="none" stroke="#00a651" stroke-width="4.2"/>
<circle cx="1880.8" cy="792.79" r="6.1" fill="none" stroke="#00a651" stroke-width="4.2"/>
<circle cx="1918" cy="804.25" r="6.1" fill="none" stroke="#00a651" stroke-width="4.2"/>
<circle cx="1955.2" cy="807.45" r="6.1" fill="none" stroke="#00a651" stroke-width="4.2"/>
<polyline points="1657.6,657.66 1694.8,684.69 1732,699.34 1769.2,718.13 1806.4,736.45 1843.6,749.28 1880.8,762.56 1918,774.01 1955.2,777.22" fill="none" stroke="#ed1c24" stroke-width="3.4" stroke-linejoin="round" stroke-linecap="round"/>
<circle cx="1657.6" cy="657.66" r="6.1" fill="none" stroke="#ed1c24" stroke-width="4.2"/>
<circle cx="1694.8" cy="684.69" r="6.1" fill="none" stroke="#ed1c24" stroke-width="4.2"/>
<circle cx="1732" cy="699.34" r="6.1" fill="none" stroke="#ed1c24" stroke-width="4.2"/>
<circle cx="1769.2" cy="718.13" r="6.1" fill="none" stroke="#ed1c24" stroke-width="4.2"/>
<circle cx="1806.4" cy="736.45" r="6.1" fill="none" stroke="#ed1c24" stroke-width="4.2"/>
<circle cx="1843.6" cy="749.28" r="6.1" fill="none" stroke="#ed1c24" stroke-width="4.2"/>
<circle cx="1880.8" cy="762.56" r="6.1" fill="none" stroke="#ed1c24" stroke-width="4.2"/>
<circle cx="1918" cy="774.01" r="6.1" fill="none" stroke="#ed1c24" stroke-width="4.2"/>
<circle cx="1955.2" cy="777.22" r="6.1" fill="none" stroke="#ed1c24" stroke-width="4.2"/>
<polyline points="1657.6,633.38 1694.8,661.78 1732,675.52 1769.2,694.76 1806.4,714 1843.6,725.46 1880.8,739.66 1918,750.65 1955.2,753.86" fill="none" stroke="#00aeef" stroke-width="3.4" stroke-linejoin="round" stroke-linecap="round"/>
<circle cx="1657.6" cy="633.38" r="6.1" fill="none" stroke="#00aeef" stroke-width="4.2"/>
<circle cx="1694.8" cy="661.78" r="6.1" fill="none" stroke="#00aeef" stroke-width="4.2"/>
<circle cx="1732" cy="675.52" r="6.1" fill="none" stroke="#00aeef" stroke-width="4.2"/>
<circle cx="1769.2" cy="694.76" r="6.1" fill="none" stroke="#00aeef" stroke-width="4.2"/>
<circle cx="1806.4" cy="714" r="6.1" fill="none" stroke="#00aeef" stroke-width="4.2"/>
<circle cx="1843.6" cy="725.46" r="6.1" fill="none" stroke="#00aeef" stroke-width="4.2"/>
<circle cx="1880.8" cy="739.66" r="6.1" fill="none" stroke="#00aeef" stroke-width="4.2"/>
<circle cx="1918" cy="750.65" r="6.1" fill="none" stroke="#00aeef" stroke-width="4.2"/>
<circle cx="1955.2" cy="753.86" r="6.1" fill="none" stroke="#00aeef" stroke-width="4.2"/>
<polyline points="1657.6,602.23 1694.8,630.63 1732,644.37 1769.2,663.16 1806.4,682.85 1843.6,694.76 1880.8,708.05 1918,719.04 1955.2,723.62" fill="none" stroke="#ec008c" stroke-width="3.4" stroke-linejoin="round" stroke-linecap="round"/>
<circle cx="1657.6" cy="602.23" r="6.1" fill="none" stroke="#ec008c" stroke-width="4.2"/>
<circle cx="1694.8" cy="630.63" r="6.1" fill="none" stroke="#ec008c" stroke-width="4.2"/>
<circle cx="1732" cy="644.37" r="6.1" fill="none" stroke="#ec008c" stroke-width="4.2"/>
<circle cx="1769.2" cy="663.16" r="6.1" fill="none" stroke="#ec008c" stroke-width="4.2"/>
<circle cx="1806.4" cy="682.85" r="6.1" fill="none" stroke="#ec008c" stroke-width="4.2"/>
<circle cx="1843.6" cy="694.76" r="6.1" fill="none" stroke="#ec008c" stroke-width="4.2"/>
<circle cx="1880.8" cy="708.05" r="6.1" fill="none" stroke="#ec008c" stroke-width="4.2"/>
<circle cx="1918" cy="719.04" r="6.1" fill="none" stroke="#ec008c" stroke-width="4.2"/>
<circle cx="1955.2" cy="723.62" r="6.1" fill="none" stroke="#ec008c" stroke-width="4.2"/>
<polyline points="1657.6,577.95 1694.8,607.27 1732,620.55 1769.2,639.79 1806.4,659.49 1843.6,670.94 1880.8,684.23 1918,694.76 1955.2,699.34" fill="none" stroke="#fff200" stroke-width="3.4" stroke-linejoin="round" stroke-linecap="round"/>
<circle cx="1657.6" cy="577.95" r="6.1" fill="none" stroke="#fff200" stroke-width="4.2"/>
<circle cx="1694.8" cy="607.27" r="6.1" fill="none" stroke="#fff200" stroke-width="4.2"/>
<circle cx="1732" cy="620.55" r="6.1" fill="none" stroke="#fff200" stroke-width="4.2"/>
<circle cx="1769.2" cy="639.79" r="6.1" fill="none" stroke="#fff200" stroke-width="4.2"/>
<circle cx="1806.4" cy="659.49" r="6.1" fill="none" stroke="#fff200" stroke-width="4.2"/>
<circle cx="1843.6" cy="670.94" r="6.1" fill="none" stroke="#fff200" stroke-width="4.2"/>
<circle cx="1880.8" cy="684.23" r="6.1" fill="none" stroke="#fff200" stroke-width="4.2"/>
<circle cx="1918" cy="694.76" r="6.1" fill="none" stroke="#fff200" stroke-width="4.2"/>
<circle cx="1955.2" cy="699.34" r="6.1" fill="none" stroke="#fff200" stroke-width="4.2"/>
<text x="10.16" y="29.90" font-family='"Liberation Sans", Arial, sans-serif' font-size="34.70" text-anchor="start" font-weight="bold" fill="#231f20"><tspan>A</tspan></text>
<text x="150.98" y="24.75" font-family='"Liberation Sans", Arial, sans-serif' font-size="28.81" text-anchor="start" font-weight="bold" fill="#231f20"><tspan>Example 90 Neuron Stimulus Driven Partition Function</tspan></text>
<text x="90.20" y="251.60" font-family='"Liberation Sans", Arial, sans-serif' font-size="25.00" text-anchor="start" fill="#231f20"><tspan>0</tspan></text>
<text x="247.81" y="251.60" font-family='"Liberation Sans", Arial, sans-serif' font-size="25.00" text-anchor="start" fill="#231f20"><tspan>500</tspan></text>
<text x="412.51" y="251.60" font-family='"Liberation Sans", Arial, sans-serif' font-size="25.00" text-anchor="start" fill="#231f20"><tspan>1000</tspan></text>
<text x="584.79" y="251.60" font-family='"Liberation Sans", Arial, sans-serif' font-size="25.00" text-anchor="start" fill="#231f20"><tspan>1500</tspan></text>
<text x="757.45" y="251.60" font-family='"Liberation Sans", Arial, sans-serif' font-size="25.00" text-anchor="start" fill="#231f20"><tspan>2000</tspan></text>
<text x="917.33" y="251.60" font-family='"Liberation Sans", Arial, sans-serif' font-size="25.00" text-anchor="start" fill="#231f20"><tspan>2500</tspan></text>
<text x="80.15" y="212.52" font-family='"Liberation Sans", Arial, sans-serif' font-size="25.00" text-anchor="start" fill="#231f20"><tspan>8</tspan></text>
<text x="67.25" y="167.52" font-family='"Liberation Sans", Arial, sans-serif' font-size="25.00" text-anchor="start" fill="#231f20"><tspan>10</tspan></text>
<text x="67.80" y="122.65" font-family='"Liberation Sans", Arial, sans-serif' font-size="25.00" text-anchor="start" fill="#231f20"><tspan>12</tspan></text>
<text x="66.60" y="77.65" font-family='"Liberation Sans", Arial, sans-serif' font-size="25.00" text-anchor="start" fill="#231f20"><tspan>14</tspan></text>
<text x="515.14" y="265.80" font-family='"Liberation Sans", Arial, sans-serif' font-size="29.48" text-anchor="start" font-weight="bold" fill="#231f20"><tspan>ms</tspan></text>
<text x="29.90" y="158.66" font-family='"Liberation Sans", Arial, sans-serif' font-size="28.80" text-anchor="start" font-weight="bold" fill="#231f20" transform="rotate(-90 29.90 158.66)"><tspan>Z(s)</tspan></text>
<text x="108.08" y="318.90" font-family='"Liberation Sans", Arial, sans-serif' font-size="28.87" text-anchor="start" font-weight="bold" fill="#231f20"><tspan>Example 90 Neuron Stimulus Driven Partition Function Ratios</tspan></text>
<text x="93.90" y="537.60" font-family='"Liberation Sans", Arial, sans-serif' font-size="25.00" text-anchor="start" fill="#231f20"><tspan>0</tspan></text>
<text x="251.31" y="537.60" font-family='"Liberation Sans", Arial, sans-serif' font-size="25.00" text-anchor="start" fill="#231f20"><tspan>500</tspan></text>
<text x="416.11" y="537.60" font-family='"Liberation Sans", Arial, sans-serif' font-size="25.00" text-anchor="start" fill="#231f20"><tspan>1000</tspan></text>
<text x="588.29" y="537.60" font-family='"Liberation Sans", Arial, sans-serif' font-size="25.00" text-anchor="start" fill="#231f20"><tspan>1500</tspan></text>
<text x="760.85" y="537.60" font-family='"Liberation Sans", Arial, sans-serif' font-size="25.00" text-anchor="start" fill="#231f20"><tspan>2000</tspan></text>
<text x="925.23" y="537.60" font-family='"Liberation Sans", Arial, sans-serif' font-size="25.00" text-anchor="start" fill="#231f20"><tspan>2500</tspan></text>
<text x="49.10" y="358.18" font-family='"Liberation Sans", Arial, sans-serif' font-size="25.00" text-anchor="start" fill="#231f20"><tspan>1.02</tspan></text>
<text x="66.15" y="429.72" font-family='"Liberation Sans", Arial, sans-serif' font-size="25.00" text-anchor="start" fill="#231f20"><tspan>1</tspan></text>
<text x="48.80" y="502.06" font-family='"Liberation Sans", Arial, sans-serif' font-size="25.00" text-anchor="start" fill="#231f20"><tspan>0.98</tspan></text>
<text x="515.24" y="573.50" font-family='"Liberation Sans", Arial, sans-serif' font-size="29.40" text-anchor="start" font-weight="bold" fill="#231f20"><tspan>ms</tspan></text>
<text x="24.20" y="497.96" font-family='"Liberation Sans", Arial, sans-serif' font-size="28.50" text-anchor="start" font-weight="bold" letter-spacing="0.35" fill="#231f20" transform="rotate(-90 24.20 497.96)"><tspan>Z(s) / Z(s)</tspan><tspan font-size="20.52" dy="12.54">CL</tspan></text>
<text x="15.68" y="650.50" font-family='"Liberation Sans", Arial, sans-serif' font-size="33.11" text-anchor="start" font-weight="bold" fill="#231f20"><tspan>B</tspan></text>
<text x="96.15" y="649.80" font-family='"Liberation Sans", Arial, sans-serif' font-size="28.85" text-anchor="start" font-weight="bold" fill="#231f20"><tspan>Good-Turing Missing Mass</tspan></text>
<text x="91.40" y="863.70" font-family='"Liberation Sans", Arial, sans-serif' font-size="25.00" text-anchor="start" fill="#231f20"><tspan>0</tspan></text>
<text x="158.72" y="863.70" font-family='"Liberation Sans", Arial, sans-serif' font-size="25.00" text-anchor="start" fill="#231f20"><tspan>20</tspan></text>
<text x="233.42" y="863.70" font-family='"Liberation Sans", Arial, sans-serif' font-size="25.00" text-anchor="start" fill="#231f20"><tspan>40</tspan></text>
<text x="307.36" y="863.70" font-family='"Liberation Sans", Arial, sans-serif' font-size="25.00" text-anchor="start" fill="#231f20"><tspan>60</tspan></text>
<text x="381.81" y="863.70" font-family='"Liberation Sans", Arial, sans-serif' font-size="25.00" text-anchor="start" fill="#231f20"><tspan>80</tspan></text>
<text x="71.30" y="846.23" font-family='"Liberation Sans", Arial, sans-serif' font-size="25.00" text-anchor="start" fill="#231f20"><tspan>0</tspan></text>
<text x="50.50" y="801.38" font-family='"Liberation Sans", Arial, sans-serif' font-size="25.00" text-anchor="start" fill="#231f20"><tspan>0.1</tspan></text>
<text x="53.90" y="756.52" font-family='"Liberation Sans", Arial, sans-serif' font-size="25.00" text-anchor="start" fill="#231f20"><tspan>0.2</tspan></text>
<text x="54.25" y="711.68" font-family='"Liberation Sans", Arial, sans-serif' font-size="25.00" text-anchor="start" fill="#231f20"><tspan>0.3</tspan></text>
<text x="222.92" y="897.30" font-family='"Liberation Sans", Arial, sans-serif' font-size="28.79" text-anchor="start" font-weight="bold" fill="#231f20"><tspan># neurons</tspan></text>
<text x="35.80" y="783.10" font-family='"Liberation Sans", Arial, sans-serif' font-size="28.63" text-anchor="start" font-weight="bold" fill="#231f20" transform="rotate(-90 35.80 783.10)"><tspan>MM</tspan></text>
<text x="515.83" y="649.50" font-family='"Liberation Sans", Arial, sans-serif' font-size="34.31" text-anchor="start" font-weight="bold" fill="#231f20"><tspan>C</tspan></text>
<text x="693.43" y="649.60" font-family='"Liberation Sans", Arial, sans-serif' font-size="28.68" text-anchor="start" font-weight="bold" fill="#231f20"><tspan># Patterns</tspan></text>
<text x="584.70" y="863.90" font-family='"Liberation Sans", Arial, sans-serif' font-size="25.00" text-anchor="start" fill="#231f20"><tspan>0</tspan></text>
<text x="652.00" y="863.90" font-family='"Liberation Sans", Arial, sans-serif' font-size="25.00" text-anchor="start" fill="#231f20"><tspan>20</tspan></text>
<text x="726.67" y="863.90" font-family='"Liberation Sans", Arial, sans-serif' font-size="25.00" text-anchor="start" fill="#231f20"><tspan>40</tspan></text>
<text x="800.60" y="863.90" font-family='"Liberation Sans", Arial, sans-serif' font-size="25.00" text-anchor="start" fill="#231f20"><tspan>60</tspan></text>
<text x="875.02" y="863.90" font-family='"Liberation Sans", Arial, sans-serif' font-size="25.00" text-anchor="start" fill="#231f20"><tspan>80</tspan></text>
<text x="568.90" y="846.62" font-family='"Liberation Sans", Arial, sans-serif' font-size="25.00" text-anchor="start" fill="#231f20"><tspan>0</tspan></text>
<text x="566.05" y="774.66" font-family='"Liberation Sans", Arial, sans-serif' font-size="25.00" text-anchor="start" fill="#231f20"><tspan>1</tspan></text>
<text x="568.85" y="702.83" font-family='"Liberation Sans", Arial, sans-serif' font-size="25.00" text-anchor="start" fill="#231f20"><tspan>2</tspan></text>
<text x="716.32" y="894.70" font-family='"Liberation Sans", Arial, sans-serif' font-size="28.79" text-anchor="start" font-weight="bold" fill="#231f20"><tspan># neurons</tspan></text>
<text x="561.50" y="791.60" font-family='"Liberation Sans", Arial, sans-serif' font-size="28.40" text-anchor="start" fill="#231f20" transform="rotate(-90 561.50 791.60)"><tspan># x 10</tspan></text>
<text x="540.50" y="720.91" font-family='"Liberation Sans", Arial, sans-serif' font-size="20.59" text-anchor="start" fill="#231f20" transform="rotate(-90 540.50 720.91)"><tspan>4</tspan></text>
<text x="1054.34" y="33.90" font-family='"Liberation Sans", Arial, sans-serif' font-size="35.08" text-anchor="start" font-weight="bold" fill="#231f20"><tspan>D</tspan></text>
<text x="1261.38" y="32.80" font-family='"Liberation Sans", Arial, sans-serif' font-size="28.88" text-anchor="start" font-weight="bold" fill="#231f20"><tspan>Difference in CL and IS Estimates of Z(s)</tspan></text>
<text x="1125.70" y="360.20" font-family='"Liberation Sans", Arial, sans-serif' font-size="25.00" text-anchor="start" fill="#231f20"><tspan>0</tspan></text>
<text x="1193.00" y="360.20" font-family='"Liberation Sans", Arial, sans-serif' font-size="25.00" text-anchor="start" fill="#231f20"><tspan>20</tspan></text>
<text x="1267.67" y="360.20" font-family='"Liberation Sans", Arial, sans-serif' font-size="25.00" text-anchor="start" fill="#231f20"><tspan>40</tspan></text>
<text x="1341.60" y="360.20" font-family='"Liberation Sans", Arial, sans-serif' font-size="25.00" text-anchor="start" fill="#231f20"><tspan>60</tspan></text>
<text x="1416.03" y="360.20" font-family='"Liberation Sans", Arial, sans-serif' font-size="25.00" text-anchor="start" fill="#231f20"><tspan>80</tspan></text>
<text x="1477.33" y="360.20" font-family='"Liberation Sans", Arial, sans-serif' font-size="25.00" text-anchor="start" fill="#231f20"><tspan>100</tspan></text>
<text x="1103.70" y="58.15" font-family='"Liberation Sans", Arial, sans-serif' font-size="25.00" text-anchor="start" fill="#231f20"><tspan>4</tspan></text>
<text x="1102.85" y="115.05" font-family='"Liberation Sans", Arial, sans-serif' font-size="25.00" text-anchor="start" fill="#231f20"><tspan>2</tspan></text>
<text x="1105.50" y="171.82" font-family='"Liberation Sans", Arial, sans-serif' font-size="25.00" text-anchor="start" fill="#231f20"><tspan>0</tspan></text>
<text x="1103.70" y="228.85" font-family='"Liberation Sans", Arial, sans-serif' font-size="25.00" text-anchor="start" fill="#231f20"><tspan>-2</tspan></text>
<text x="1103.60" y="285.75" font-family='"Liberation Sans", Arial, sans-serif' font-size="25.00" text-anchor="start" fill="#231f20"><tspan>-4</tspan></text>
<text x="1103.60" y="342.52" font-family='"Liberation Sans", Arial, sans-serif' font-size="25.00" text-anchor="start" fill="#231f20"><tspan>-6</tspan></text>
<text x="1254.62" y="391.50" font-family='"Liberation Sans", Arial, sans-serif' font-size="28.79" text-anchor="start" font-weight="bold" fill="#231f20"><tspan># neurons</tspan></text>
<text x="1148.80" y="311.80" font-family='"Liberation Sans", Arial, sans-serif' font-size="28.73" text-anchor="start" fill="#ed1c24"><tspan>y-axis x 10</tspan></text>
<text x="1281.20" y="287.60" font-family='"Liberation Sans", Arial, sans-serif' font-size="24.88" text-anchor="start" fill="#ed1c24"><tspan>-4</tspan></text>
<text x="1076.00" y="319.41" font-family='"Liberation Sans", Arial, sans-serif' font-size="28.50" text-anchor="start" font-weight="bold" fill="#231f20" transform="rotate(-90 1076.00 319.41)"><tspan>1 - mean(Z</tspan><tspan font-size="20.52" dy="12.40">IS</tspan><tspan dy="-12.40"> / Z</tspan><tspan font-size="20.52" dy="12.40">MM</tspan><tspan dy="-12.40">)</tspan></text>
<text x="1615.00" y="360.20" font-family='"Liberation Sans", Arial, sans-serif' font-size="25.00" text-anchor="start" fill="#231f20"><tspan>0</tspan></text>
<text x="1682.30" y="360.20" font-family='"Liberation Sans", Arial, sans-serif' font-size="25.00" text-anchor="start" fill="#231f20"><tspan>20</tspan></text>
<text x="1756.97" y="360.20" font-family='"Liberation Sans", Arial, sans-serif' font-size="25.00" text-anchor="start" fill="#231f20"><tspan>40</tspan></text>
<text x="1830.90" y="360.20" font-family='"Liberation Sans", Arial, sans-serif' font-size="25.00" text-anchor="start" fill="#231f20"><tspan>60</tspan></text>
<text x="1905.33" y="360.20" font-family='"Liberation Sans", Arial, sans-serif' font-size="25.00" text-anchor="start" fill="#231f20"><tspan>80</tspan></text>
<text x="1966.62" y="360.20" font-family='"Liberation Sans", Arial, sans-serif' font-size="25.00" text-anchor="start" fill="#231f20"><tspan>100</tspan></text>
<text x="1567.76" y="144.11" font-family='"Liberation Sans", Arial, sans-serif' font-size="24.24" text-anchor="start" fill="#231f20"><tspan>10</tspan></text>
<text x="1594.12" y="131.41" font-family='"Liberation Sans", Arial, sans-serif' font-size="24.50" text-anchor="start" fill="#231f20"><tspan>-2</tspan></text>
<text x="1567.76" y="267.88" font-family='"Liberation Sans", Arial, sans-serif' font-size="24.24" text-anchor="start" fill="#231f20"><tspan>10</tspan></text>
<text x="1594.12" y="255.18" font-family='"Liberation Sans", Arial, sans-serif' font-size="24.50" text-anchor="start" fill="#231f20"><tspan>-3</tspan></text>
<text x="1755.52" y="388.00" font-family='"Liberation Sans", Arial, sans-serif' font-size="28.79" text-anchor="start" font-weight="bold" fill="#231f20"><tspan># neurons</tspan></text>
<text x="1546.50" y="295.83" font-family='"Liberation Sans", Arial, sans-serif' font-size="28.20" text-anchor="start" font-weight="bold" letter-spacing="1.13" fill="#231f20" transform="rotate(-90 1546.50 295.83)"><tspan>err (Z</tspan><tspan font-size="20.30" dy="12.27">IS</tspan><tspan dy="-12.27">/ Z</tspan><tspan font-size="20.30" dy="12.27">MM</tspan><tspan dy="-12.27">)</tspan></text>
<text x="1055.89" y="534.40" font-family='"Liberation Sans", Arial, sans-serif' font-size="33.04" text-anchor="start" font-weight="bold" fill="#231f20"><tspan>E</tspan></text>
<text x="1162.84" y="535.10" font-family='"Liberation Sans", Arial, sans-serif' font-size="29.02" text-anchor="start" font-weight="bold" fill="#231f20"><tspan>CL Comp.</tspan></text>
<text x="1303.21" y="535.10" font-family='"Liberation Sans", Arial, sans-serif' font-size="28.86" text-anchor="start" font-weight="bold" fill="#231f20"><tspan>Time for Z(s)</tspan></text>
<text x="1125.80" y="863.00" font-family='"Liberation Sans", Arial, sans-serif' font-size="25.00" text-anchor="start" fill="#231f20"><tspan>0</tspan></text>
<text x="1193.08" y="863.00" font-family='"Liberation Sans", Arial, sans-serif' font-size="25.00" text-anchor="start" fill="#231f20"><tspan>20</tspan></text>
<text x="1267.73" y="863.00" font-family='"Liberation Sans", Arial, sans-serif' font-size="25.00" text-anchor="start" fill="#231f20"><tspan>40</tspan></text>
<text x="1341.64" y="863.00" font-family='"Liberation Sans", Arial, sans-serif' font-size="25.00" text-anchor="start" fill="#231f20"><tspan>60</tspan></text>
<text x="1416.05" y="863.00" font-family='"Liberation Sans", Arial, sans-serif' font-size="25.00" text-anchor="start" fill="#231f20"><tspan>80</tspan></text>
<text x="1477.33" y="863.00" font-family='"Liberation Sans", Arial, sans-serif' font-size="25.00" text-anchor="start" fill="#231f20"><tspan>100</tspan></text>
<text x="1113.50" y="845.42" font-family='"Liberation Sans", Arial, sans-serif' font-size="25.00" text-anchor="start" fill="#231f20"><tspan>0</tspan></text>
<text x="1089.55" y="774.17" font-family='"Liberation Sans", Arial, sans-serif' font-size="25.00" text-anchor="start" fill="#231f20"><tspan>200</tspan></text>
<text x="1089.85" y="702.92" font-family='"Liberation Sans", Arial, sans-serif' font-size="25.00" text-anchor="start" fill="#231f20"><tspan>400</tspan></text>
<text x="1089.85" y="631.67" font-family='"Liberation Sans", Arial, sans-serif' font-size="25.00" text-anchor="start" fill="#231f20"><tspan>600</tspan></text>
<text x="1090.15" y="560.42" font-family='"Liberation Sans", Arial, sans-serif' font-size="25.00" text-anchor="start" fill="#231f20"><tspan>800</tspan></text>
<text x="1262.92" y="893.90" font-family='"Liberation Sans", Arial, sans-serif' font-size="28.81" text-anchor="start" font-weight="bold" fill="#231f20"><tspan># neurons</tspan></text>
<text x="1069.00" y="707.65" font-family='"Liberation Sans", Arial, sans-serif' font-size="28.81" text-anchor="start" font-weight="bold" fill="#231f20" transform="rotate(-90 1069.00 707.65)"><tspan>sec</tspan></text>
<text x="1637.17" y="533.40" font-family='"Liberation Sans", Arial, sans-serif' font-size="29.00" text-anchor="start" font-weight="bold" fill="#231f20"><tspan>IS/CL Comp.</tspan></text>
<text x="1812.91" y="533.40" font-family='"Liberation Sans", Arial, sans-serif' font-size="28.86" text-anchor="start" font-weight="bold" fill="#231f20"><tspan>Time for Z(s)</tspan></text>
<text x="1614.70" y="863.00" font-family='"Liberation Sans", Arial, sans-serif' font-size="25.00" text-anchor="start" fill="#231f20"><tspan>0</tspan></text>
<text x="1682.10" y="863.00" font-family='"Liberation Sans", Arial, sans-serif' font-size="25.00" text-anchor="start" fill="#231f20"><tspan>20</tspan></text>
<text x="1756.88" y="863.00" font-family='"Liberation Sans", Arial, sans-serif' font-size="25.00" text-anchor="start" fill="#231f20"><tspan>40</tspan></text>
<text x="1830.90" y="863.00" font-family='"Liberation Sans", Arial, sans-serif' font-size="25.00" text-anchor="start" fill="#231f20"><tspan>60</tspan></text>
<text x="1905.42" y="863.00" font-family='"Liberation Sans", Arial, sans-serif' font-size="25.00" text-anchor="start" fill="#231f20"><tspan>80</tspan></text>
<text x="1966.83" y="863.00" font-family='"Liberation Sans", Arial, sans-serif' font-size="25.00" text-anchor="start" fill="#231f20"><tspan>100</tspan></text>
<text x="1571.88" y="821.18" font-family='"Liberation Sans", Arial, sans-serif' font-size="24.04" text-anchor="start" fill="#231f20"><tspan>10</tspan></text>
<text x="1598.25" y="808.48" font-family='"Liberation Sans", Arial, sans-serif' font-size="23.75" text-anchor="start" fill="#231f20"><tspan>0</tspan></text>
<text x="1571.88" y="662.94" font-family='"Liberation Sans", Arial, sans-serif' font-size="24.04" text-anchor="start" fill="#231f20"><tspan>10</tspan></text>
<text x="1597.96" y="650.24" font-family='"Liberation Sans", Arial, sans-serif' font-size="24.78" text-anchor="start" fill="#231f20"><tspan>2</tspan></text>
<text x="1752.12" y="896.40" font-family='"Liberation Sans", Arial, sans-serif' font-size="28.79" text-anchor="start" font-weight="bold" fill="#231f20"><tspan># neurons</tspan></text>
<text x="1559.40" y="732.92" font-family='"Liberation Sans", Arial, sans-serif' font-size="33.11" text-anchor="start" font-weight="bold" fill="#231f20" transform="rotate(-90 1559.40 732.92)"><tspan>ratio</tspan></text>
</svg>
</body></html>
